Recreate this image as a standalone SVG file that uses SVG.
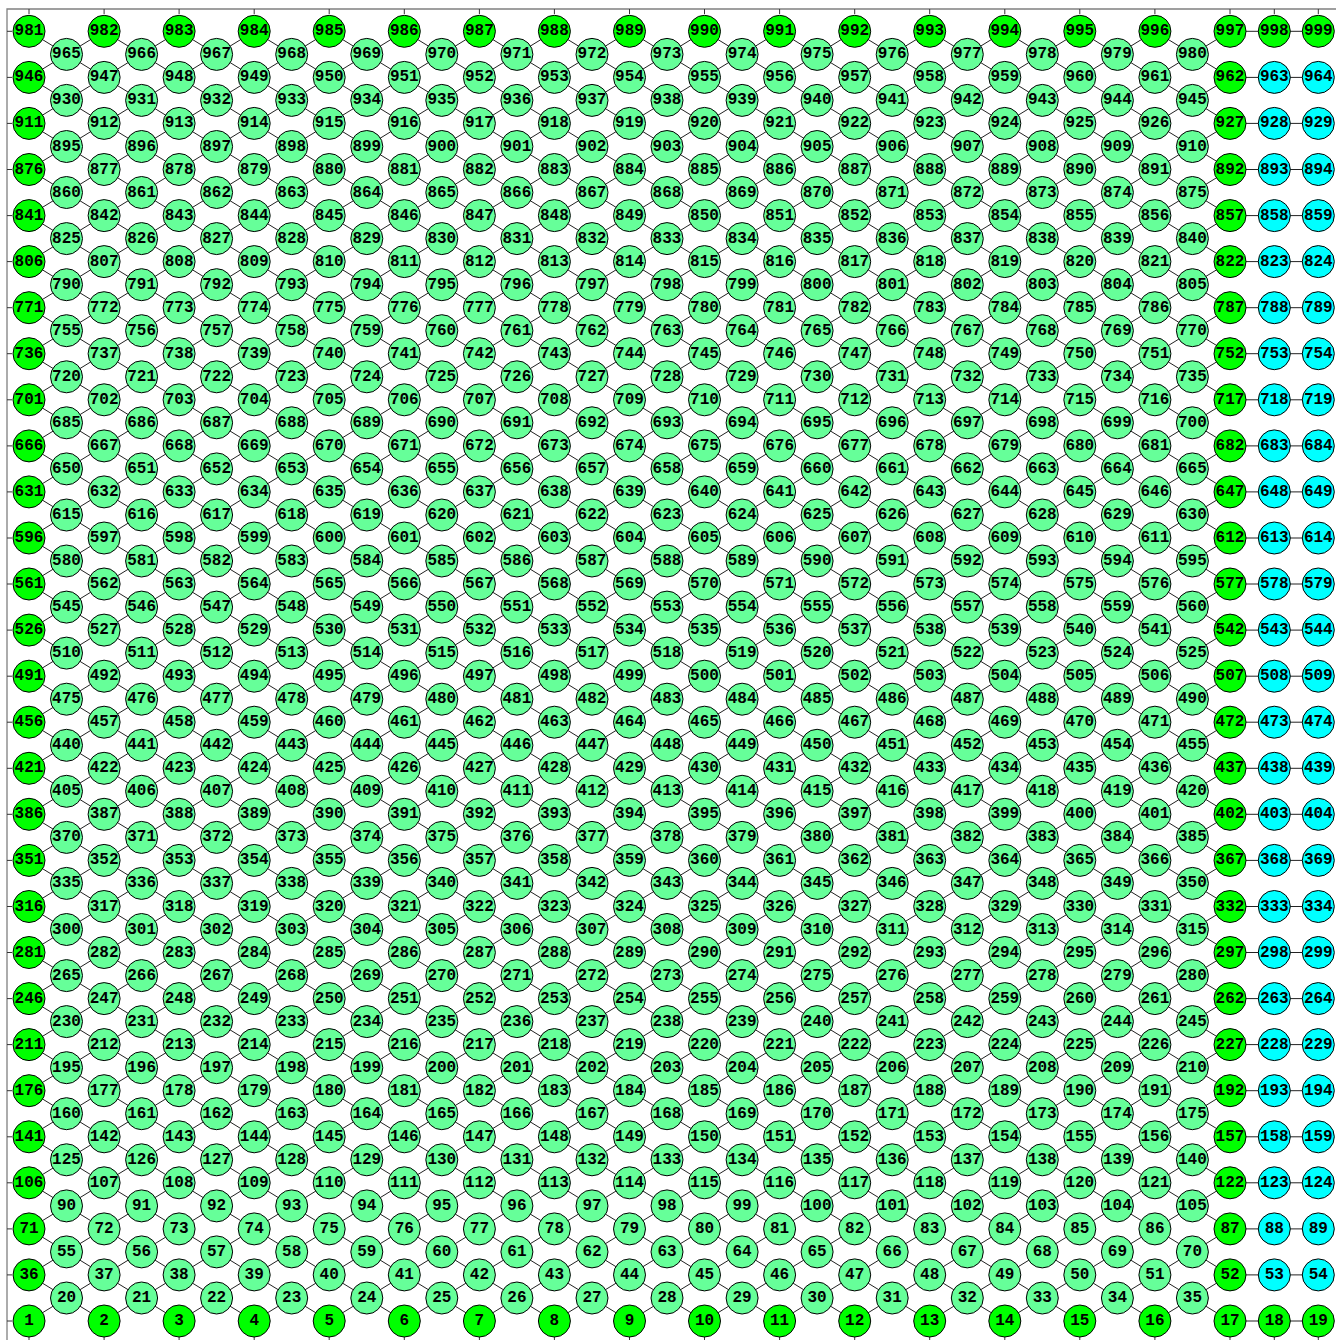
<svg xmlns="http://www.w3.org/2000/svg" width="1336" height="1340" viewBox="0 0 1336 1340">
<style>
circle{fill:#66ff99;stroke:#000;stroke-width:1}
.G circle{fill:#00ff00}
.C circle{fill:#00ffff}
text{font-family:"Liberation Mono","Courier New",monospace;font-weight:bold;font-size:16px;text-anchor:middle;dominant-baseline:central;fill:#000}
.e{fill:none;stroke:#222;stroke-width:1}
.f{fill:none;stroke:#808080;stroke-width:1.3}
.t{fill:none;stroke:#333;stroke-width:1}
</style>
<rect width="1336" height="1340" fill="#fff"/>
<g id="frame">
<path class="f" d="M7 1340V9H1336"/>
<path class="t" d="M29 9v5M104.1 9v5M179.1 9v5M254.2 9v5M329.2 9v5M404.3 9v5M479.4 9v5M554.4 9v5M629.5 9v5M704.5 9v5M779.6 9v5M854.7 9v5M929.7 9v5M1004.8 9v5M1079.8 9v5M1154.9 9v5M1230 9v5M1274.3 9v5M1318.3 9v5M29 1336v4M104.1 1336v4M179.1 1336v4M254.2 1336v4M329.2 1336v4M404.3 1336v4M479.4 1336v4M554.4 1336v4M629.5 1336v4M704.5 1336v4M779.6 1336v4M854.7 1336v4M929.7 1336v4M1004.8 1336v4M1079.8 1336v4M1154.9 1336v4M1230 1336v4M1274.3 1336v4M1318.3 1336v4M7 1321h5M7 1274.9h5M7 1228.9h5M7 1182.8h5M7 1136.8h5M7 1090.7h5M7 1044.6h5M7 998.6h5M7 952.5h5M7 906.5h5M7 860.4h5M7 814.3h5M7 768.3h5M7 722.2h5M7 676.2h5M7 630.1h5M7 584h5M7 538h5M7 491.9h5M7 445.9h5M7 399.8h5M7 353.7h5M7 307.7h5M7 261.6h5M7 215.6h5M7 169.5h5M7 123.4h5M7 77.4h5M7 31.3h5"/>
</g>
<g id="connectors">
<path class="e" d="M29 1321L1230 584M29 1274.9L1230 538M29 1228.9L1230 491.9M29 1182.8L1230 445.9M29 1136.8L1230 399.8M29 1090.7L1230 353.7M29 1044.6L1230 307.7M29 998.6L1230 261.6M29 952.5L1230 215.6M29 906.5L1230 169.5M29 860.4L1230 123.4M29 814.3L1230 77.4M29 768.3L1230 31.3M29 722.2L1154.9 31.3M29 676.2L1079.8 31.3M29 630.1L1004.8 31.3M29 584L929.7 31.3M29 538L854.7 31.3M29 491.9L779.6 31.3M29 445.9L704.5 31.3M29 399.8L629.5 31.3M29 353.7L554.4 31.3M29 307.7L479.4 31.3M29 261.6L404.3 31.3M29 215.6L329.2 31.3M29 169.5L254.2 31.3M29 123.4L179.1 31.3M29 77.4L104.1 31.3M104.1 1321L1230 630.1M179.1 1321L1230 676.2M254.2 1321L1230 722.2M329.2 1321L1230 768.3M404.3 1321L1230 814.3M479.4 1321L1230 860.4M554.4 1321L1230 906.5M629.5 1321L1230 952.5M704.5 1321L1230 998.6M779.6 1321L1230 1044.6M854.7 1321L1230 1090.7M929.7 1321L1230 1136.8M1004.8 1321L1230 1182.8M1079.8 1321L1230 1228.9M1154.9 1321L1230 1274.9"/>
<path class="e" d="M29 1274.9L104.1 1321M29 1228.9L179.1 1321M29 1182.8L254.2 1321M29 1136.8L329.2 1321M29 1090.7L404.3 1321M29 1044.6L479.4 1321M29 998.6L554.4 1321M29 952.5L629.5 1321M29 906.5L704.5 1321M29 860.4L779.6 1321M29 814.3L854.7 1321M29 768.3L929.7 1321M29 722.2L1004.8 1321M29 676.2L1079.8 1321M29 630.1L1154.9 1321M29 584L1230 1321M29 538L1230 1274.9M29 491.9L1230 1228.9M29 445.9L1230 1182.8M29 399.8L1230 1136.8M29 353.7L1230 1090.7M29 307.7L1230 1044.6M29 261.6L1230 998.6M29 215.6L1230 952.5M29 169.5L1230 906.5M29 123.4L1230 860.4M29 77.4L1230 814.3M29 31.3L1230 768.3M104.1 31.3L1230 722.2M179.1 31.3L1230 676.2M254.2 31.3L1230 630.1M329.2 31.3L1230 584M404.3 31.3L1230 538M479.4 31.3L1230 491.9M554.4 31.3L1230 445.9M629.5 31.3L1230 399.8M704.5 31.3L1230 353.7M779.6 31.3L1230 307.7M854.7 31.3L1230 261.6M929.7 31.3L1230 215.6M1004.8 31.3L1230 169.5M1079.8 31.3L1230 123.4M1154.9 31.3L1230 77.4"/>
<path class="e" d="M1230 1321H1318.3M1230 1274.9H1318.3M1230 1228.9H1318.3M1230 1182.8H1318.3M1230 1136.8H1318.3M1230 1090.7H1318.3M1230 1044.6H1318.3M1230 998.6H1318.3M1230 952.5H1318.3M1230 906.5H1318.3M1230 860.4H1318.3M1230 814.3H1318.3M1230 768.3H1318.3M1230 722.2H1318.3M1230 676.2H1318.3M1230 630.1H1318.3M1230 584H1318.3M1230 538H1318.3M1230 491.9H1318.3M1230 445.9H1318.3M1230 399.8H1318.3M1230 353.7H1318.3M1230 307.7H1318.3M1230 261.6H1318.3M1230 215.6H1318.3M1230 169.5H1318.3M1230 123.4H1318.3M1230 77.4H1318.3M1230 31.3H1318.3"/>
</g>
<g id="nodes">
<g transform="translate(0 1321)">
<g id="n1" class="G" transform="translate(29)"><circle r="16"/><text>1</text></g>
<g id="n2" class="G" transform="translate(104.1)"><circle r="16"/><text>2</text></g>
<g id="n3" class="G" transform="translate(179.1)"><circle r="16"/><text>3</text></g>
<g id="n4" class="G" transform="translate(254.2)"><circle r="16"/><text>4</text></g>
<g id="n5" class="G" transform="translate(329.2)"><circle r="16"/><text>5</text></g>
<g id="n6" class="G" transform="translate(404.3)"><circle r="16"/><text>6</text></g>
<g id="n7" class="G" transform="translate(479.4)"><circle r="16"/><text>7</text></g>
<g id="n8" class="G" transform="translate(554.4)"><circle r="16"/><text>8</text></g>
<g id="n9" class="G" transform="translate(629.5)"><circle r="16"/><text>9</text></g>
<g id="n10" class="G" transform="translate(704.5)"><circle r="16"/><text>10</text></g>
<g id="n11" class="G" transform="translate(779.6)"><circle r="16"/><text>11</text></g>
<g id="n12" class="G" transform="translate(854.7)"><circle r="16"/><text>12</text></g>
<g id="n13" class="G" transform="translate(929.7)"><circle r="16"/><text>13</text></g>
<g id="n14" class="G" transform="translate(1004.8)"><circle r="16"/><text>14</text></g>
<g id="n15" class="G" transform="translate(1079.8)"><circle r="16"/><text>15</text></g>
<g id="n16" class="G" transform="translate(1154.9)"><circle r="16"/><text>16</text></g>
<g id="n17" class="G" transform="translate(1230)"><circle r="16"/><text>17</text></g>
<g id="n18" class="G" transform="translate(1274.3)"><circle r="16"/><text>18</text></g>
<g id="n19" class="G" transform="translate(1318.3)"><circle r="16"/><text>19</text></g>
</g>
<g transform="translate(0 1298)">
<g id="n20" transform="translate(66.5)"><circle r="16"/><text>20</text></g>
<g id="n21" transform="translate(141.6)"><circle r="16"/><text>21</text></g>
<g id="n22" transform="translate(216.6)"><circle r="16"/><text>22</text></g>
<g id="n23" transform="translate(291.7)"><circle r="16"/><text>23</text></g>
<g id="n24" transform="translate(366.8)"><circle r="16"/><text>24</text></g>
<g id="n25" transform="translate(441.8)"><circle r="16"/><text>25</text></g>
<g id="n26" transform="translate(516.9)"><circle r="16"/><text>26</text></g>
<g id="n27" transform="translate(592)"><circle r="16"/><text>27</text></g>
<g id="n28" transform="translate(667)"><circle r="16"/><text>28</text></g>
<g id="n29" transform="translate(742.1)"><circle r="16"/><text>29</text></g>
<g id="n30" transform="translate(817.1)"><circle r="16"/><text>30</text></g>
<g id="n31" transform="translate(892.2)"><circle r="16"/><text>31</text></g>
<g id="n32" transform="translate(967.3)"><circle r="16"/><text>32</text></g>
<g id="n33" transform="translate(1042.3)"><circle r="16"/><text>33</text></g>
<g id="n34" transform="translate(1117.4)"><circle r="16"/><text>34</text></g>
<g id="n35" transform="translate(1192.4)"><circle r="16"/><text>35</text></g>
</g>
<g transform="translate(0 1274.9)">
<g id="n36" class="G" transform="translate(29)"><circle r="16"/><text>36</text></g>
<g id="n37" transform="translate(104.1)"><circle r="16"/><text>37</text></g>
<g id="n38" transform="translate(179.1)"><circle r="16"/><text>38</text></g>
<g id="n39" transform="translate(254.2)"><circle r="16"/><text>39</text></g>
<g id="n40" transform="translate(329.2)"><circle r="16"/><text>40</text></g>
<g id="n41" transform="translate(404.3)"><circle r="16"/><text>41</text></g>
<g id="n42" transform="translate(479.4)"><circle r="16"/><text>42</text></g>
<g id="n43" transform="translate(554.4)"><circle r="16"/><text>43</text></g>
<g id="n44" transform="translate(629.5)"><circle r="16"/><text>44</text></g>
<g id="n45" transform="translate(704.5)"><circle r="16"/><text>45</text></g>
<g id="n46" transform="translate(779.6)"><circle r="16"/><text>46</text></g>
<g id="n47" transform="translate(854.7)"><circle r="16"/><text>47</text></g>
<g id="n48" transform="translate(929.7)"><circle r="16"/><text>48</text></g>
<g id="n49" transform="translate(1004.8)"><circle r="16"/><text>49</text></g>
<g id="n50" transform="translate(1079.8)"><circle r="16"/><text>50</text></g>
<g id="n51" transform="translate(1154.9)"><circle r="16"/><text>51</text></g>
<g id="n52" class="G" transform="translate(1230)"><circle r="16"/><text>52</text></g>
<g id="n53" class="C" transform="translate(1274.3)"><circle r="16"/><text>53</text></g>
<g id="n54" class="C" transform="translate(1318.3)"><circle r="16"/><text>54</text></g>
</g>
<g transform="translate(0 1251.9)">
<g id="n55" transform="translate(66.5)"><circle r="16"/><text>55</text></g>
<g id="n56" transform="translate(141.6)"><circle r="16"/><text>56</text></g>
<g id="n57" transform="translate(216.6)"><circle r="16"/><text>57</text></g>
<g id="n58" transform="translate(291.7)"><circle r="16"/><text>58</text></g>
<g id="n59" transform="translate(366.8)"><circle r="16"/><text>59</text></g>
<g id="n60" transform="translate(441.8)"><circle r="16"/><text>60</text></g>
<g id="n61" transform="translate(516.9)"><circle r="16"/><text>61</text></g>
<g id="n62" transform="translate(592)"><circle r="16"/><text>62</text></g>
<g id="n63" transform="translate(667)"><circle r="16"/><text>63</text></g>
<g id="n64" transform="translate(742.1)"><circle r="16"/><text>64</text></g>
<g id="n65" transform="translate(817.1)"><circle r="16"/><text>65</text></g>
<g id="n66" transform="translate(892.2)"><circle r="16"/><text>66</text></g>
<g id="n67" transform="translate(967.3)"><circle r="16"/><text>67</text></g>
<g id="n68" transform="translate(1042.3)"><circle r="16"/><text>68</text></g>
<g id="n69" transform="translate(1117.4)"><circle r="16"/><text>69</text></g>
<g id="n70" transform="translate(1192.4)"><circle r="16"/><text>70</text></g>
</g>
<g transform="translate(0 1228.9)">
<g id="n71" class="G" transform="translate(29)"><circle r="16"/><text>71</text></g>
<g id="n72" transform="translate(104.1)"><circle r="16"/><text>72</text></g>
<g id="n73" transform="translate(179.1)"><circle r="16"/><text>73</text></g>
<g id="n74" transform="translate(254.2)"><circle r="16"/><text>74</text></g>
<g id="n75" transform="translate(329.2)"><circle r="16"/><text>75</text></g>
<g id="n76" transform="translate(404.3)"><circle r="16"/><text>76</text></g>
<g id="n77" transform="translate(479.4)"><circle r="16"/><text>77</text></g>
<g id="n78" transform="translate(554.4)"><circle r="16"/><text>78</text></g>
<g id="n79" transform="translate(629.5)"><circle r="16"/><text>79</text></g>
<g id="n80" transform="translate(704.5)"><circle r="16"/><text>80</text></g>
<g id="n81" transform="translate(779.6)"><circle r="16"/><text>81</text></g>
<g id="n82" transform="translate(854.7)"><circle r="16"/><text>82</text></g>
<g id="n83" transform="translate(929.7)"><circle r="16"/><text>83</text></g>
<g id="n84" transform="translate(1004.8)"><circle r="16"/><text>84</text></g>
<g id="n85" transform="translate(1079.8)"><circle r="16"/><text>85</text></g>
<g id="n86" transform="translate(1154.9)"><circle r="16"/><text>86</text></g>
<g id="n87" class="G" transform="translate(1230)"><circle r="16"/><text>87</text></g>
<g id="n88" class="C" transform="translate(1274.3)"><circle r="16"/><text>88</text></g>
<g id="n89" class="C" transform="translate(1318.3)"><circle r="16"/><text>89</text></g>
</g>
<g transform="translate(0 1205.9)">
<g id="n90" transform="translate(66.5)"><circle r="16"/><text>90</text></g>
<g id="n91" transform="translate(141.6)"><circle r="16"/><text>91</text></g>
<g id="n92" transform="translate(216.6)"><circle r="16"/><text>92</text></g>
<g id="n93" transform="translate(291.7)"><circle r="16"/><text>93</text></g>
<g id="n94" transform="translate(366.8)"><circle r="16"/><text>94</text></g>
<g id="n95" transform="translate(441.8)"><circle r="16"/><text>95</text></g>
<g id="n96" transform="translate(516.9)"><circle r="16"/><text>96</text></g>
<g id="n97" transform="translate(592)"><circle r="16"/><text>97</text></g>
<g id="n98" transform="translate(667)"><circle r="16"/><text>98</text></g>
<g id="n99" transform="translate(742.1)"><circle r="16"/><text>99</text></g>
<g id="n100" transform="translate(817.1)"><circle r="16"/><text>100</text></g>
<g id="n101" transform="translate(892.2)"><circle r="16"/><text>101</text></g>
<g id="n102" transform="translate(967.3)"><circle r="16"/><text>102</text></g>
<g id="n103" transform="translate(1042.3)"><circle r="16"/><text>103</text></g>
<g id="n104" transform="translate(1117.4)"><circle r="16"/><text>104</text></g>
<g id="n105" transform="translate(1192.4)"><circle r="16"/><text>105</text></g>
</g>
<g transform="translate(0 1182.8)">
<g id="n106" class="G" transform="translate(29)"><circle r="16"/><text>106</text></g>
<g id="n107" transform="translate(104.1)"><circle r="16"/><text>107</text></g>
<g id="n108" transform="translate(179.1)"><circle r="16"/><text>108</text></g>
<g id="n109" transform="translate(254.2)"><circle r="16"/><text>109</text></g>
<g id="n110" transform="translate(329.2)"><circle r="16"/><text>110</text></g>
<g id="n111" transform="translate(404.3)"><circle r="16"/><text>111</text></g>
<g id="n112" transform="translate(479.4)"><circle r="16"/><text>112</text></g>
<g id="n113" transform="translate(554.4)"><circle r="16"/><text>113</text></g>
<g id="n114" transform="translate(629.5)"><circle r="16"/><text>114</text></g>
<g id="n115" transform="translate(704.5)"><circle r="16"/><text>115</text></g>
<g id="n116" transform="translate(779.6)"><circle r="16"/><text>116</text></g>
<g id="n117" transform="translate(854.7)"><circle r="16"/><text>117</text></g>
<g id="n118" transform="translate(929.7)"><circle r="16"/><text>118</text></g>
<g id="n119" transform="translate(1004.8)"><circle r="16"/><text>119</text></g>
<g id="n120" transform="translate(1079.8)"><circle r="16"/><text>120</text></g>
<g id="n121" transform="translate(1154.9)"><circle r="16"/><text>121</text></g>
<g id="n122" class="G" transform="translate(1230)"><circle r="16"/><text>122</text></g>
<g id="n123" class="C" transform="translate(1274.3)"><circle r="16"/><text>123</text></g>
<g id="n124" class="C" transform="translate(1318.3)"><circle r="16"/><text>124</text></g>
</g>
<g transform="translate(0 1159.8)">
<g id="n125" transform="translate(66.5)"><circle r="16"/><text>125</text></g>
<g id="n126" transform="translate(141.6)"><circle r="16"/><text>126</text></g>
<g id="n127" transform="translate(216.6)"><circle r="16"/><text>127</text></g>
<g id="n128" transform="translate(291.7)"><circle r="16"/><text>128</text></g>
<g id="n129" transform="translate(366.8)"><circle r="16"/><text>129</text></g>
<g id="n130" transform="translate(441.8)"><circle r="16"/><text>130</text></g>
<g id="n131" transform="translate(516.9)"><circle r="16"/><text>131</text></g>
<g id="n132" transform="translate(592)"><circle r="16"/><text>132</text></g>
<g id="n133" transform="translate(667)"><circle r="16"/><text>133</text></g>
<g id="n134" transform="translate(742.1)"><circle r="16"/><text>134</text></g>
<g id="n135" transform="translate(817.1)"><circle r="16"/><text>135</text></g>
<g id="n136" transform="translate(892.2)"><circle r="16"/><text>136</text></g>
<g id="n137" transform="translate(967.3)"><circle r="16"/><text>137</text></g>
<g id="n138" transform="translate(1042.3)"><circle r="16"/><text>138</text></g>
<g id="n139" transform="translate(1117.4)"><circle r="16"/><text>139</text></g>
<g id="n140" transform="translate(1192.4)"><circle r="16"/><text>140</text></g>
</g>
<g transform="translate(0 1136.8)">
<g id="n141" class="G" transform="translate(29)"><circle r="16"/><text>141</text></g>
<g id="n142" transform="translate(104.1)"><circle r="16"/><text>142</text></g>
<g id="n143" transform="translate(179.1)"><circle r="16"/><text>143</text></g>
<g id="n144" transform="translate(254.2)"><circle r="16"/><text>144</text></g>
<g id="n145" transform="translate(329.2)"><circle r="16"/><text>145</text></g>
<g id="n146" transform="translate(404.3)"><circle r="16"/><text>146</text></g>
<g id="n147" transform="translate(479.4)"><circle r="16"/><text>147</text></g>
<g id="n148" transform="translate(554.4)"><circle r="16"/><text>148</text></g>
<g id="n149" transform="translate(629.5)"><circle r="16"/><text>149</text></g>
<g id="n150" transform="translate(704.5)"><circle r="16"/><text>150</text></g>
<g id="n151" transform="translate(779.6)"><circle r="16"/><text>151</text></g>
<g id="n152" transform="translate(854.7)"><circle r="16"/><text>152</text></g>
<g id="n153" transform="translate(929.7)"><circle r="16"/><text>153</text></g>
<g id="n154" transform="translate(1004.8)"><circle r="16"/><text>154</text></g>
<g id="n155" transform="translate(1079.8)"><circle r="16"/><text>155</text></g>
<g id="n156" transform="translate(1154.9)"><circle r="16"/><text>156</text></g>
<g id="n157" class="G" transform="translate(1230)"><circle r="16"/><text>157</text></g>
<g id="n158" class="C" transform="translate(1274.3)"><circle r="16"/><text>158</text></g>
<g id="n159" class="C" transform="translate(1318.3)"><circle r="16"/><text>159</text></g>
</g>
<g transform="translate(0 1113.7)">
<g id="n160" transform="translate(66.5)"><circle r="16"/><text>160</text></g>
<g id="n161" transform="translate(141.6)"><circle r="16"/><text>161</text></g>
<g id="n162" transform="translate(216.6)"><circle r="16"/><text>162</text></g>
<g id="n163" transform="translate(291.7)"><circle r="16"/><text>163</text></g>
<g id="n164" transform="translate(366.8)"><circle r="16"/><text>164</text></g>
<g id="n165" transform="translate(441.8)"><circle r="16"/><text>165</text></g>
<g id="n166" transform="translate(516.9)"><circle r="16"/><text>166</text></g>
<g id="n167" transform="translate(592)"><circle r="16"/><text>167</text></g>
<g id="n168" transform="translate(667)"><circle r="16"/><text>168</text></g>
<g id="n169" transform="translate(742.1)"><circle r="16"/><text>169</text></g>
<g id="n170" transform="translate(817.1)"><circle r="16"/><text>170</text></g>
<g id="n171" transform="translate(892.2)"><circle r="16"/><text>171</text></g>
<g id="n172" transform="translate(967.3)"><circle r="16"/><text>172</text></g>
<g id="n173" transform="translate(1042.3)"><circle r="16"/><text>173</text></g>
<g id="n174" transform="translate(1117.4)"><circle r="16"/><text>174</text></g>
<g id="n175" transform="translate(1192.4)"><circle r="16"/><text>175</text></g>
</g>
<g transform="translate(0 1090.7)">
<g id="n176" class="G" transform="translate(29)"><circle r="16"/><text>176</text></g>
<g id="n177" transform="translate(104.1)"><circle r="16"/><text>177</text></g>
<g id="n178" transform="translate(179.1)"><circle r="16"/><text>178</text></g>
<g id="n179" transform="translate(254.2)"><circle r="16"/><text>179</text></g>
<g id="n180" transform="translate(329.2)"><circle r="16"/><text>180</text></g>
<g id="n181" transform="translate(404.3)"><circle r="16"/><text>181</text></g>
<g id="n182" transform="translate(479.4)"><circle r="16"/><text>182</text></g>
<g id="n183" transform="translate(554.4)"><circle r="16"/><text>183</text></g>
<g id="n184" transform="translate(629.5)"><circle r="16"/><text>184</text></g>
<g id="n185" transform="translate(704.5)"><circle r="16"/><text>185</text></g>
<g id="n186" transform="translate(779.6)"><circle r="16"/><text>186</text></g>
<g id="n187" transform="translate(854.7)"><circle r="16"/><text>187</text></g>
<g id="n188" transform="translate(929.7)"><circle r="16"/><text>188</text></g>
<g id="n189" transform="translate(1004.8)"><circle r="16"/><text>189</text></g>
<g id="n190" transform="translate(1079.8)"><circle r="16"/><text>190</text></g>
<g id="n191" transform="translate(1154.9)"><circle r="16"/><text>191</text></g>
<g id="n192" class="G" transform="translate(1230)"><circle r="16"/><text>192</text></g>
<g id="n193" class="C" transform="translate(1274.3)"><circle r="16"/><text>193</text></g>
<g id="n194" class="C" transform="translate(1318.3)"><circle r="16"/><text>194</text></g>
</g>
<g transform="translate(0 1067.7)">
<g id="n195" transform="translate(66.5)"><circle r="16"/><text>195</text></g>
<g id="n196" transform="translate(141.6)"><circle r="16"/><text>196</text></g>
<g id="n197" transform="translate(216.6)"><circle r="16"/><text>197</text></g>
<g id="n198" transform="translate(291.7)"><circle r="16"/><text>198</text></g>
<g id="n199" transform="translate(366.8)"><circle r="16"/><text>199</text></g>
<g id="n200" transform="translate(441.8)"><circle r="16"/><text>200</text></g>
<g id="n201" transform="translate(516.9)"><circle r="16"/><text>201</text></g>
<g id="n202" transform="translate(592)"><circle r="16"/><text>202</text></g>
<g id="n203" transform="translate(667)"><circle r="16"/><text>203</text></g>
<g id="n204" transform="translate(742.1)"><circle r="16"/><text>204</text></g>
<g id="n205" transform="translate(817.1)"><circle r="16"/><text>205</text></g>
<g id="n206" transform="translate(892.2)"><circle r="16"/><text>206</text></g>
<g id="n207" transform="translate(967.3)"><circle r="16"/><text>207</text></g>
<g id="n208" transform="translate(1042.3)"><circle r="16"/><text>208</text></g>
<g id="n209" transform="translate(1117.4)"><circle r="16"/><text>209</text></g>
<g id="n210" transform="translate(1192.4)"><circle r="16"/><text>210</text></g>
</g>
<g transform="translate(0 1044.6)">
<g id="n211" class="G" transform="translate(29)"><circle r="16"/><text>211</text></g>
<g id="n212" transform="translate(104.1)"><circle r="16"/><text>212</text></g>
<g id="n213" transform="translate(179.1)"><circle r="16"/><text>213</text></g>
<g id="n214" transform="translate(254.2)"><circle r="16"/><text>214</text></g>
<g id="n215" transform="translate(329.2)"><circle r="16"/><text>215</text></g>
<g id="n216" transform="translate(404.3)"><circle r="16"/><text>216</text></g>
<g id="n217" transform="translate(479.4)"><circle r="16"/><text>217</text></g>
<g id="n218" transform="translate(554.4)"><circle r="16"/><text>218</text></g>
<g id="n219" transform="translate(629.5)"><circle r="16"/><text>219</text></g>
<g id="n220" transform="translate(704.5)"><circle r="16"/><text>220</text></g>
<g id="n221" transform="translate(779.6)"><circle r="16"/><text>221</text></g>
<g id="n222" transform="translate(854.7)"><circle r="16"/><text>222</text></g>
<g id="n223" transform="translate(929.7)"><circle r="16"/><text>223</text></g>
<g id="n224" transform="translate(1004.8)"><circle r="16"/><text>224</text></g>
<g id="n225" transform="translate(1079.8)"><circle r="16"/><text>225</text></g>
<g id="n226" transform="translate(1154.9)"><circle r="16"/><text>226</text></g>
<g id="n227" class="G" transform="translate(1230)"><circle r="16"/><text>227</text></g>
<g id="n228" class="C" transform="translate(1274.3)"><circle r="16"/><text>228</text></g>
<g id="n229" class="C" transform="translate(1318.3)"><circle r="16"/><text>229</text></g>
</g>
<g transform="translate(0 1021.6)">
<g id="n230" transform="translate(66.5)"><circle r="16"/><text>230</text></g>
<g id="n231" transform="translate(141.6)"><circle r="16"/><text>231</text></g>
<g id="n232" transform="translate(216.6)"><circle r="16"/><text>232</text></g>
<g id="n233" transform="translate(291.7)"><circle r="16"/><text>233</text></g>
<g id="n234" transform="translate(366.8)"><circle r="16"/><text>234</text></g>
<g id="n235" transform="translate(441.8)"><circle r="16"/><text>235</text></g>
<g id="n236" transform="translate(516.9)"><circle r="16"/><text>236</text></g>
<g id="n237" transform="translate(592)"><circle r="16"/><text>237</text></g>
<g id="n238" transform="translate(667)"><circle r="16"/><text>238</text></g>
<g id="n239" transform="translate(742.1)"><circle r="16"/><text>239</text></g>
<g id="n240" transform="translate(817.1)"><circle r="16"/><text>240</text></g>
<g id="n241" transform="translate(892.2)"><circle r="16"/><text>241</text></g>
<g id="n242" transform="translate(967.3)"><circle r="16"/><text>242</text></g>
<g id="n243" transform="translate(1042.3)"><circle r="16"/><text>243</text></g>
<g id="n244" transform="translate(1117.4)"><circle r="16"/><text>244</text></g>
<g id="n245" transform="translate(1192.4)"><circle r="16"/><text>245</text></g>
</g>
<g transform="translate(0 998.6)">
<g id="n246" class="G" transform="translate(29)"><circle r="16"/><text>246</text></g>
<g id="n247" transform="translate(104.1)"><circle r="16"/><text>247</text></g>
<g id="n248" transform="translate(179.1)"><circle r="16"/><text>248</text></g>
<g id="n249" transform="translate(254.2)"><circle r="16"/><text>249</text></g>
<g id="n250" transform="translate(329.2)"><circle r="16"/><text>250</text></g>
<g id="n251" transform="translate(404.3)"><circle r="16"/><text>251</text></g>
<g id="n252" transform="translate(479.4)"><circle r="16"/><text>252</text></g>
<g id="n253" transform="translate(554.4)"><circle r="16"/><text>253</text></g>
<g id="n254" transform="translate(629.5)"><circle r="16"/><text>254</text></g>
<g id="n255" transform="translate(704.5)"><circle r="16"/><text>255</text></g>
<g id="n256" transform="translate(779.6)"><circle r="16"/><text>256</text></g>
<g id="n257" transform="translate(854.7)"><circle r="16"/><text>257</text></g>
<g id="n258" transform="translate(929.7)"><circle r="16"/><text>258</text></g>
<g id="n259" transform="translate(1004.8)"><circle r="16"/><text>259</text></g>
<g id="n260" transform="translate(1079.8)"><circle r="16"/><text>260</text></g>
<g id="n261" transform="translate(1154.9)"><circle r="16"/><text>261</text></g>
<g id="n262" class="G" transform="translate(1230)"><circle r="16"/><text>262</text></g>
<g id="n263" class="C" transform="translate(1274.3)"><circle r="16"/><text>263</text></g>
<g id="n264" class="C" transform="translate(1318.3)"><circle r="16"/><text>264</text></g>
</g>
<g transform="translate(0 975.6)">
<g id="n265" transform="translate(66.5)"><circle r="16"/><text>265</text></g>
<g id="n266" transform="translate(141.6)"><circle r="16"/><text>266</text></g>
<g id="n267" transform="translate(216.6)"><circle r="16"/><text>267</text></g>
<g id="n268" transform="translate(291.7)"><circle r="16"/><text>268</text></g>
<g id="n269" transform="translate(366.8)"><circle r="16"/><text>269</text></g>
<g id="n270" transform="translate(441.8)"><circle r="16"/><text>270</text></g>
<g id="n271" transform="translate(516.9)"><circle r="16"/><text>271</text></g>
<g id="n272" transform="translate(592)"><circle r="16"/><text>272</text></g>
<g id="n273" transform="translate(667)"><circle r="16"/><text>273</text></g>
<g id="n274" transform="translate(742.1)"><circle r="16"/><text>274</text></g>
<g id="n275" transform="translate(817.1)"><circle r="16"/><text>275</text></g>
<g id="n276" transform="translate(892.2)"><circle r="16"/><text>276</text></g>
<g id="n277" transform="translate(967.3)"><circle r="16"/><text>277</text></g>
<g id="n278" transform="translate(1042.3)"><circle r="16"/><text>278</text></g>
<g id="n279" transform="translate(1117.4)"><circle r="16"/><text>279</text></g>
<g id="n280" transform="translate(1192.4)"><circle r="16"/><text>280</text></g>
</g>
<g transform="translate(0 952.5)">
<g id="n281" class="G" transform="translate(29)"><circle r="16"/><text>281</text></g>
<g id="n282" transform="translate(104.1)"><circle r="16"/><text>282</text></g>
<g id="n283" transform="translate(179.1)"><circle r="16"/><text>283</text></g>
<g id="n284" transform="translate(254.2)"><circle r="16"/><text>284</text></g>
<g id="n285" transform="translate(329.2)"><circle r="16"/><text>285</text></g>
<g id="n286" transform="translate(404.3)"><circle r="16"/><text>286</text></g>
<g id="n287" transform="translate(479.4)"><circle r="16"/><text>287</text></g>
<g id="n288" transform="translate(554.4)"><circle r="16"/><text>288</text></g>
<g id="n289" transform="translate(629.5)"><circle r="16"/><text>289</text></g>
<g id="n290" transform="translate(704.5)"><circle r="16"/><text>290</text></g>
<g id="n291" transform="translate(779.6)"><circle r="16"/><text>291</text></g>
<g id="n292" transform="translate(854.7)"><circle r="16"/><text>292</text></g>
<g id="n293" transform="translate(929.7)"><circle r="16"/><text>293</text></g>
<g id="n294" transform="translate(1004.8)"><circle r="16"/><text>294</text></g>
<g id="n295" transform="translate(1079.8)"><circle r="16"/><text>295</text></g>
<g id="n296" transform="translate(1154.9)"><circle r="16"/><text>296</text></g>
<g id="n297" class="G" transform="translate(1230)"><circle r="16"/><text>297</text></g>
<g id="n298" class="C" transform="translate(1274.3)"><circle r="16"/><text>298</text></g>
<g id="n299" class="C" transform="translate(1318.3)"><circle r="16"/><text>299</text></g>
</g>
<g transform="translate(0 929.5)">
<g id="n300" transform="translate(66.5)"><circle r="16"/><text>300</text></g>
<g id="n301" transform="translate(141.6)"><circle r="16"/><text>301</text></g>
<g id="n302" transform="translate(216.6)"><circle r="16"/><text>302</text></g>
<g id="n303" transform="translate(291.7)"><circle r="16"/><text>303</text></g>
<g id="n304" transform="translate(366.8)"><circle r="16"/><text>304</text></g>
<g id="n305" transform="translate(441.8)"><circle r="16"/><text>305</text></g>
<g id="n306" transform="translate(516.9)"><circle r="16"/><text>306</text></g>
<g id="n307" transform="translate(592)"><circle r="16"/><text>307</text></g>
<g id="n308" transform="translate(667)"><circle r="16"/><text>308</text></g>
<g id="n309" transform="translate(742.1)"><circle r="16"/><text>309</text></g>
<g id="n310" transform="translate(817.1)"><circle r="16"/><text>310</text></g>
<g id="n311" transform="translate(892.2)"><circle r="16"/><text>311</text></g>
<g id="n312" transform="translate(967.3)"><circle r="16"/><text>312</text></g>
<g id="n313" transform="translate(1042.3)"><circle r="16"/><text>313</text></g>
<g id="n314" transform="translate(1117.4)"><circle r="16"/><text>314</text></g>
<g id="n315" transform="translate(1192.4)"><circle r="16"/><text>315</text></g>
</g>
<g transform="translate(0 906.5)">
<g id="n316" class="G" transform="translate(29)"><circle r="16"/><text>316</text></g>
<g id="n317" transform="translate(104.1)"><circle r="16"/><text>317</text></g>
<g id="n318" transform="translate(179.1)"><circle r="16"/><text>318</text></g>
<g id="n319" transform="translate(254.2)"><circle r="16"/><text>319</text></g>
<g id="n320" transform="translate(329.2)"><circle r="16"/><text>320</text></g>
<g id="n321" transform="translate(404.3)"><circle r="16"/><text>321</text></g>
<g id="n322" transform="translate(479.4)"><circle r="16"/><text>322</text></g>
<g id="n323" transform="translate(554.4)"><circle r="16"/><text>323</text></g>
<g id="n324" transform="translate(629.5)"><circle r="16"/><text>324</text></g>
<g id="n325" transform="translate(704.5)"><circle r="16"/><text>325</text></g>
<g id="n326" transform="translate(779.6)"><circle r="16"/><text>326</text></g>
<g id="n327" transform="translate(854.7)"><circle r="16"/><text>327</text></g>
<g id="n328" transform="translate(929.7)"><circle r="16"/><text>328</text></g>
<g id="n329" transform="translate(1004.8)"><circle r="16"/><text>329</text></g>
<g id="n330" transform="translate(1079.8)"><circle r="16"/><text>330</text></g>
<g id="n331" transform="translate(1154.9)"><circle r="16"/><text>331</text></g>
<g id="n332" class="G" transform="translate(1230)"><circle r="16"/><text>332</text></g>
<g id="n333" class="C" transform="translate(1274.3)"><circle r="16"/><text>333</text></g>
<g id="n334" class="C" transform="translate(1318.3)"><circle r="16"/><text>334</text></g>
</g>
<g transform="translate(0 883.4)">
<g id="n335" transform="translate(66.5)"><circle r="16"/><text>335</text></g>
<g id="n336" transform="translate(141.6)"><circle r="16"/><text>336</text></g>
<g id="n337" transform="translate(216.6)"><circle r="16"/><text>337</text></g>
<g id="n338" transform="translate(291.7)"><circle r="16"/><text>338</text></g>
<g id="n339" transform="translate(366.8)"><circle r="16"/><text>339</text></g>
<g id="n340" transform="translate(441.8)"><circle r="16"/><text>340</text></g>
<g id="n341" transform="translate(516.9)"><circle r="16"/><text>341</text></g>
<g id="n342" transform="translate(592)"><circle r="16"/><text>342</text></g>
<g id="n343" transform="translate(667)"><circle r="16"/><text>343</text></g>
<g id="n344" transform="translate(742.1)"><circle r="16"/><text>344</text></g>
<g id="n345" transform="translate(817.1)"><circle r="16"/><text>345</text></g>
<g id="n346" transform="translate(892.2)"><circle r="16"/><text>346</text></g>
<g id="n347" transform="translate(967.3)"><circle r="16"/><text>347</text></g>
<g id="n348" transform="translate(1042.3)"><circle r="16"/><text>348</text></g>
<g id="n349" transform="translate(1117.4)"><circle r="16"/><text>349</text></g>
<g id="n350" transform="translate(1192.4)"><circle r="16"/><text>350</text></g>
</g>
<g transform="translate(0 860.4)">
<g id="n351" class="G" transform="translate(29)"><circle r="16"/><text>351</text></g>
<g id="n352" transform="translate(104.1)"><circle r="16"/><text>352</text></g>
<g id="n353" transform="translate(179.1)"><circle r="16"/><text>353</text></g>
<g id="n354" transform="translate(254.2)"><circle r="16"/><text>354</text></g>
<g id="n355" transform="translate(329.2)"><circle r="16"/><text>355</text></g>
<g id="n356" transform="translate(404.3)"><circle r="16"/><text>356</text></g>
<g id="n357" transform="translate(479.4)"><circle r="16"/><text>357</text></g>
<g id="n358" transform="translate(554.4)"><circle r="16"/><text>358</text></g>
<g id="n359" transform="translate(629.5)"><circle r="16"/><text>359</text></g>
<g id="n360" transform="translate(704.5)"><circle r="16"/><text>360</text></g>
<g id="n361" transform="translate(779.6)"><circle r="16"/><text>361</text></g>
<g id="n362" transform="translate(854.7)"><circle r="16"/><text>362</text></g>
<g id="n363" transform="translate(929.7)"><circle r="16"/><text>363</text></g>
<g id="n364" transform="translate(1004.8)"><circle r="16"/><text>364</text></g>
<g id="n365" transform="translate(1079.8)"><circle r="16"/><text>365</text></g>
<g id="n366" transform="translate(1154.9)"><circle r="16"/><text>366</text></g>
<g id="n367" class="G" transform="translate(1230)"><circle r="16"/><text>367</text></g>
<g id="n368" class="C" transform="translate(1274.3)"><circle r="16"/><text>368</text></g>
<g id="n369" class="C" transform="translate(1318.3)"><circle r="16"/><text>369</text></g>
</g>
<g transform="translate(0 837.4)">
<g id="n370" transform="translate(66.5)"><circle r="16"/><text>370</text></g>
<g id="n371" transform="translate(141.6)"><circle r="16"/><text>371</text></g>
<g id="n372" transform="translate(216.6)"><circle r="16"/><text>372</text></g>
<g id="n373" transform="translate(291.7)"><circle r="16"/><text>373</text></g>
<g id="n374" transform="translate(366.8)"><circle r="16"/><text>374</text></g>
<g id="n375" transform="translate(441.8)"><circle r="16"/><text>375</text></g>
<g id="n376" transform="translate(516.9)"><circle r="16"/><text>376</text></g>
<g id="n377" transform="translate(592)"><circle r="16"/><text>377</text></g>
<g id="n378" transform="translate(667)"><circle r="16"/><text>378</text></g>
<g id="n379" transform="translate(742.1)"><circle r="16"/><text>379</text></g>
<g id="n380" transform="translate(817.1)"><circle r="16"/><text>380</text></g>
<g id="n381" transform="translate(892.2)"><circle r="16"/><text>381</text></g>
<g id="n382" transform="translate(967.3)"><circle r="16"/><text>382</text></g>
<g id="n383" transform="translate(1042.3)"><circle r="16"/><text>383</text></g>
<g id="n384" transform="translate(1117.4)"><circle r="16"/><text>384</text></g>
<g id="n385" transform="translate(1192.4)"><circle r="16"/><text>385</text></g>
</g>
<g transform="translate(0 814.3)">
<g id="n386" class="G" transform="translate(29)"><circle r="16"/><text>386</text></g>
<g id="n387" transform="translate(104.1)"><circle r="16"/><text>387</text></g>
<g id="n388" transform="translate(179.1)"><circle r="16"/><text>388</text></g>
<g id="n389" transform="translate(254.2)"><circle r="16"/><text>389</text></g>
<g id="n390" transform="translate(329.2)"><circle r="16"/><text>390</text></g>
<g id="n391" transform="translate(404.3)"><circle r="16"/><text>391</text></g>
<g id="n392" transform="translate(479.4)"><circle r="16"/><text>392</text></g>
<g id="n393" transform="translate(554.4)"><circle r="16"/><text>393</text></g>
<g id="n394" transform="translate(629.5)"><circle r="16"/><text>394</text></g>
<g id="n395" transform="translate(704.5)"><circle r="16"/><text>395</text></g>
<g id="n396" transform="translate(779.6)"><circle r="16"/><text>396</text></g>
<g id="n397" transform="translate(854.7)"><circle r="16"/><text>397</text></g>
<g id="n398" transform="translate(929.7)"><circle r="16"/><text>398</text></g>
<g id="n399" transform="translate(1004.8)"><circle r="16"/><text>399</text></g>
<g id="n400" transform="translate(1079.8)"><circle r="16"/><text>400</text></g>
<g id="n401" transform="translate(1154.9)"><circle r="16"/><text>401</text></g>
<g id="n402" class="G" transform="translate(1230)"><circle r="16"/><text>402</text></g>
<g id="n403" class="C" transform="translate(1274.3)"><circle r="16"/><text>403</text></g>
<g id="n404" class="C" transform="translate(1318.3)"><circle r="16"/><text>404</text></g>
</g>
<g transform="translate(0 791.3)">
<g id="n405" transform="translate(66.5)"><circle r="16"/><text>405</text></g>
<g id="n406" transform="translate(141.6)"><circle r="16"/><text>406</text></g>
<g id="n407" transform="translate(216.6)"><circle r="16"/><text>407</text></g>
<g id="n408" transform="translate(291.7)"><circle r="16"/><text>408</text></g>
<g id="n409" transform="translate(366.8)"><circle r="16"/><text>409</text></g>
<g id="n410" transform="translate(441.8)"><circle r="16"/><text>410</text></g>
<g id="n411" transform="translate(516.9)"><circle r="16"/><text>411</text></g>
<g id="n412" transform="translate(592)"><circle r="16"/><text>412</text></g>
<g id="n413" transform="translate(667)"><circle r="16"/><text>413</text></g>
<g id="n414" transform="translate(742.1)"><circle r="16"/><text>414</text></g>
<g id="n415" transform="translate(817.1)"><circle r="16"/><text>415</text></g>
<g id="n416" transform="translate(892.2)"><circle r="16"/><text>416</text></g>
<g id="n417" transform="translate(967.3)"><circle r="16"/><text>417</text></g>
<g id="n418" transform="translate(1042.3)"><circle r="16"/><text>418</text></g>
<g id="n419" transform="translate(1117.4)"><circle r="16"/><text>419</text></g>
<g id="n420" transform="translate(1192.4)"><circle r="16"/><text>420</text></g>
</g>
<g transform="translate(0 768.3)">
<g id="n421" class="G" transform="translate(29)"><circle r="16"/><text>421</text></g>
<g id="n422" transform="translate(104.1)"><circle r="16"/><text>422</text></g>
<g id="n423" transform="translate(179.1)"><circle r="16"/><text>423</text></g>
<g id="n424" transform="translate(254.2)"><circle r="16"/><text>424</text></g>
<g id="n425" transform="translate(329.2)"><circle r="16"/><text>425</text></g>
<g id="n426" transform="translate(404.3)"><circle r="16"/><text>426</text></g>
<g id="n427" transform="translate(479.4)"><circle r="16"/><text>427</text></g>
<g id="n428" transform="translate(554.4)"><circle r="16"/><text>428</text></g>
<g id="n429" transform="translate(629.5)"><circle r="16"/><text>429</text></g>
<g id="n430" transform="translate(704.5)"><circle r="16"/><text>430</text></g>
<g id="n431" transform="translate(779.6)"><circle r="16"/><text>431</text></g>
<g id="n432" transform="translate(854.7)"><circle r="16"/><text>432</text></g>
<g id="n433" transform="translate(929.7)"><circle r="16"/><text>433</text></g>
<g id="n434" transform="translate(1004.8)"><circle r="16"/><text>434</text></g>
<g id="n435" transform="translate(1079.8)"><circle r="16"/><text>435</text></g>
<g id="n436" transform="translate(1154.9)"><circle r="16"/><text>436</text></g>
<g id="n437" class="G" transform="translate(1230)"><circle r="16"/><text>437</text></g>
<g id="n438" class="C" transform="translate(1274.3)"><circle r="16"/><text>438</text></g>
<g id="n439" class="C" transform="translate(1318.3)"><circle r="16"/><text>439</text></g>
</g>
<g transform="translate(0 745.3)">
<g id="n440" transform="translate(66.5)"><circle r="16"/><text>440</text></g>
<g id="n441" transform="translate(141.6)"><circle r="16"/><text>441</text></g>
<g id="n442" transform="translate(216.6)"><circle r="16"/><text>442</text></g>
<g id="n443" transform="translate(291.7)"><circle r="16"/><text>443</text></g>
<g id="n444" transform="translate(366.8)"><circle r="16"/><text>444</text></g>
<g id="n445" transform="translate(441.8)"><circle r="16"/><text>445</text></g>
<g id="n446" transform="translate(516.9)"><circle r="16"/><text>446</text></g>
<g id="n447" transform="translate(592)"><circle r="16"/><text>447</text></g>
<g id="n448" transform="translate(667)"><circle r="16"/><text>448</text></g>
<g id="n449" transform="translate(742.1)"><circle r="16"/><text>449</text></g>
<g id="n450" transform="translate(817.1)"><circle r="16"/><text>450</text></g>
<g id="n451" transform="translate(892.2)"><circle r="16"/><text>451</text></g>
<g id="n452" transform="translate(967.3)"><circle r="16"/><text>452</text></g>
<g id="n453" transform="translate(1042.3)"><circle r="16"/><text>453</text></g>
<g id="n454" transform="translate(1117.4)"><circle r="16"/><text>454</text></g>
<g id="n455" transform="translate(1192.4)"><circle r="16"/><text>455</text></g>
</g>
<g transform="translate(0 722.2)">
<g id="n456" class="G" transform="translate(29)"><circle r="16"/><text>456</text></g>
<g id="n457" transform="translate(104.1)"><circle r="16"/><text>457</text></g>
<g id="n458" transform="translate(179.1)"><circle r="16"/><text>458</text></g>
<g id="n459" transform="translate(254.2)"><circle r="16"/><text>459</text></g>
<g id="n460" transform="translate(329.2)"><circle r="16"/><text>460</text></g>
<g id="n461" transform="translate(404.3)"><circle r="16"/><text>461</text></g>
<g id="n462" transform="translate(479.4)"><circle r="16"/><text>462</text></g>
<g id="n463" transform="translate(554.4)"><circle r="16"/><text>463</text></g>
<g id="n464" transform="translate(629.5)"><circle r="16"/><text>464</text></g>
<g id="n465" transform="translate(704.5)"><circle r="16"/><text>465</text></g>
<g id="n466" transform="translate(779.6)"><circle r="16"/><text>466</text></g>
<g id="n467" transform="translate(854.7)"><circle r="16"/><text>467</text></g>
<g id="n468" transform="translate(929.7)"><circle r="16"/><text>468</text></g>
<g id="n469" transform="translate(1004.8)"><circle r="16"/><text>469</text></g>
<g id="n470" transform="translate(1079.8)"><circle r="16"/><text>470</text></g>
<g id="n471" transform="translate(1154.9)"><circle r="16"/><text>471</text></g>
<g id="n472" class="G" transform="translate(1230)"><circle r="16"/><text>472</text></g>
<g id="n473" class="C" transform="translate(1274.3)"><circle r="16"/><text>473</text></g>
<g id="n474" class="C" transform="translate(1318.3)"><circle r="16"/><text>474</text></g>
</g>
<g transform="translate(0 699.2)">
<g id="n475" transform="translate(66.5)"><circle r="16"/><text>475</text></g>
<g id="n476" transform="translate(141.6)"><circle r="16"/><text>476</text></g>
<g id="n477" transform="translate(216.6)"><circle r="16"/><text>477</text></g>
<g id="n478" transform="translate(291.7)"><circle r="16"/><text>478</text></g>
<g id="n479" transform="translate(366.8)"><circle r="16"/><text>479</text></g>
<g id="n480" transform="translate(441.8)"><circle r="16"/><text>480</text></g>
<g id="n481" transform="translate(516.9)"><circle r="16"/><text>481</text></g>
<g id="n482" transform="translate(592)"><circle r="16"/><text>482</text></g>
<g id="n483" transform="translate(667)"><circle r="16"/><text>483</text></g>
<g id="n484" transform="translate(742.1)"><circle r="16"/><text>484</text></g>
<g id="n485" transform="translate(817.1)"><circle r="16"/><text>485</text></g>
<g id="n486" transform="translate(892.2)"><circle r="16"/><text>486</text></g>
<g id="n487" transform="translate(967.3)"><circle r="16"/><text>487</text></g>
<g id="n488" transform="translate(1042.3)"><circle r="16"/><text>488</text></g>
<g id="n489" transform="translate(1117.4)"><circle r="16"/><text>489</text></g>
<g id="n490" transform="translate(1192.4)"><circle r="16"/><text>490</text></g>
</g>
<g transform="translate(0 676.2)">
<g id="n491" class="G" transform="translate(29)"><circle r="16"/><text>491</text></g>
<g id="n492" transform="translate(104.1)"><circle r="16"/><text>492</text></g>
<g id="n493" transform="translate(179.1)"><circle r="16"/><text>493</text></g>
<g id="n494" transform="translate(254.2)"><circle r="16"/><text>494</text></g>
<g id="n495" transform="translate(329.2)"><circle r="16"/><text>495</text></g>
<g id="n496" transform="translate(404.3)"><circle r="16"/><text>496</text></g>
<g id="n497" transform="translate(479.4)"><circle r="16"/><text>497</text></g>
<g id="n498" transform="translate(554.4)"><circle r="16"/><text>498</text></g>
<g id="n499" transform="translate(629.5)"><circle r="16"/><text>499</text></g>
<g id="n500" transform="translate(704.5)"><circle r="16"/><text>500</text></g>
<g id="n501" transform="translate(779.6)"><circle r="16"/><text>501</text></g>
<g id="n502" transform="translate(854.7)"><circle r="16"/><text>502</text></g>
<g id="n503" transform="translate(929.7)"><circle r="16"/><text>503</text></g>
<g id="n504" transform="translate(1004.8)"><circle r="16"/><text>504</text></g>
<g id="n505" transform="translate(1079.8)"><circle r="16"/><text>505</text></g>
<g id="n506" transform="translate(1154.9)"><circle r="16"/><text>506</text></g>
<g id="n507" class="G" transform="translate(1230)"><circle r="16"/><text>507</text></g>
<g id="n508" class="C" transform="translate(1274.3)"><circle r="16"/><text>508</text></g>
<g id="n509" class="C" transform="translate(1318.3)"><circle r="16"/><text>509</text></g>
</g>
<g transform="translate(0 653.1)">
<g id="n510" transform="translate(66.5)"><circle r="16"/><text>510</text></g>
<g id="n511" transform="translate(141.6)"><circle r="16"/><text>511</text></g>
<g id="n512" transform="translate(216.6)"><circle r="16"/><text>512</text></g>
<g id="n513" transform="translate(291.7)"><circle r="16"/><text>513</text></g>
<g id="n514" transform="translate(366.8)"><circle r="16"/><text>514</text></g>
<g id="n515" transform="translate(441.8)"><circle r="16"/><text>515</text></g>
<g id="n516" transform="translate(516.9)"><circle r="16"/><text>516</text></g>
<g id="n517" transform="translate(592)"><circle r="16"/><text>517</text></g>
<g id="n518" transform="translate(667)"><circle r="16"/><text>518</text></g>
<g id="n519" transform="translate(742.1)"><circle r="16"/><text>519</text></g>
<g id="n520" transform="translate(817.1)"><circle r="16"/><text>520</text></g>
<g id="n521" transform="translate(892.2)"><circle r="16"/><text>521</text></g>
<g id="n522" transform="translate(967.3)"><circle r="16"/><text>522</text></g>
<g id="n523" transform="translate(1042.3)"><circle r="16"/><text>523</text></g>
<g id="n524" transform="translate(1117.4)"><circle r="16"/><text>524</text></g>
<g id="n525" transform="translate(1192.4)"><circle r="16"/><text>525</text></g>
</g>
<g transform="translate(0 630.1)">
<g id="n526" class="G" transform="translate(29)"><circle r="16"/><text>526</text></g>
<g id="n527" transform="translate(104.1)"><circle r="16"/><text>527</text></g>
<g id="n528" transform="translate(179.1)"><circle r="16"/><text>528</text></g>
<g id="n529" transform="translate(254.2)"><circle r="16"/><text>529</text></g>
<g id="n530" transform="translate(329.2)"><circle r="16"/><text>530</text></g>
<g id="n531" transform="translate(404.3)"><circle r="16"/><text>531</text></g>
<g id="n532" transform="translate(479.4)"><circle r="16"/><text>532</text></g>
<g id="n533" transform="translate(554.4)"><circle r="16"/><text>533</text></g>
<g id="n534" transform="translate(629.5)"><circle r="16"/><text>534</text></g>
<g id="n535" transform="translate(704.5)"><circle r="16"/><text>535</text></g>
<g id="n536" transform="translate(779.6)"><circle r="16"/><text>536</text></g>
<g id="n537" transform="translate(854.7)"><circle r="16"/><text>537</text></g>
<g id="n538" transform="translate(929.7)"><circle r="16"/><text>538</text></g>
<g id="n539" transform="translate(1004.8)"><circle r="16"/><text>539</text></g>
<g id="n540" transform="translate(1079.8)"><circle r="16"/><text>540</text></g>
<g id="n541" transform="translate(1154.9)"><circle r="16"/><text>541</text></g>
<g id="n542" class="G" transform="translate(1230)"><circle r="16"/><text>542</text></g>
<g id="n543" class="C" transform="translate(1274.3)"><circle r="16"/><text>543</text></g>
<g id="n544" class="C" transform="translate(1318.3)"><circle r="16"/><text>544</text></g>
</g>
<g transform="translate(0 607.1)">
<g id="n545" transform="translate(66.5)"><circle r="16"/><text>545</text></g>
<g id="n546" transform="translate(141.6)"><circle r="16"/><text>546</text></g>
<g id="n547" transform="translate(216.6)"><circle r="16"/><text>547</text></g>
<g id="n548" transform="translate(291.7)"><circle r="16"/><text>548</text></g>
<g id="n549" transform="translate(366.8)"><circle r="16"/><text>549</text></g>
<g id="n550" transform="translate(441.8)"><circle r="16"/><text>550</text></g>
<g id="n551" transform="translate(516.9)"><circle r="16"/><text>551</text></g>
<g id="n552" transform="translate(592)"><circle r="16"/><text>552</text></g>
<g id="n553" transform="translate(667)"><circle r="16"/><text>553</text></g>
<g id="n554" transform="translate(742.1)"><circle r="16"/><text>554</text></g>
<g id="n555" transform="translate(817.1)"><circle r="16"/><text>555</text></g>
<g id="n556" transform="translate(892.2)"><circle r="16"/><text>556</text></g>
<g id="n557" transform="translate(967.3)"><circle r="16"/><text>557</text></g>
<g id="n558" transform="translate(1042.3)"><circle r="16"/><text>558</text></g>
<g id="n559" transform="translate(1117.4)"><circle r="16"/><text>559</text></g>
<g id="n560" transform="translate(1192.4)"><circle r="16"/><text>560</text></g>
</g>
<g transform="translate(0 584)">
<g id="n561" class="G" transform="translate(29)"><circle r="16"/><text>561</text></g>
<g id="n562" transform="translate(104.1)"><circle r="16"/><text>562</text></g>
<g id="n563" transform="translate(179.1)"><circle r="16"/><text>563</text></g>
<g id="n564" transform="translate(254.2)"><circle r="16"/><text>564</text></g>
<g id="n565" transform="translate(329.2)"><circle r="16"/><text>565</text></g>
<g id="n566" transform="translate(404.3)"><circle r="16"/><text>566</text></g>
<g id="n567" transform="translate(479.4)"><circle r="16"/><text>567</text></g>
<g id="n568" transform="translate(554.4)"><circle r="16"/><text>568</text></g>
<g id="n569" transform="translate(629.5)"><circle r="16"/><text>569</text></g>
<g id="n570" transform="translate(704.5)"><circle r="16"/><text>570</text></g>
<g id="n571" transform="translate(779.6)"><circle r="16"/><text>571</text></g>
<g id="n572" transform="translate(854.7)"><circle r="16"/><text>572</text></g>
<g id="n573" transform="translate(929.7)"><circle r="16"/><text>573</text></g>
<g id="n574" transform="translate(1004.8)"><circle r="16"/><text>574</text></g>
<g id="n575" transform="translate(1079.8)"><circle r="16"/><text>575</text></g>
<g id="n576" transform="translate(1154.9)"><circle r="16"/><text>576</text></g>
<g id="n577" class="G" transform="translate(1230)"><circle r="16"/><text>577</text></g>
<g id="n578" class="C" transform="translate(1274.3)"><circle r="16"/><text>578</text></g>
<g id="n579" class="C" transform="translate(1318.3)"><circle r="16"/><text>579</text></g>
</g>
<g transform="translate(0 561)">
<g id="n580" transform="translate(66.5)"><circle r="16"/><text>580</text></g>
<g id="n581" transform="translate(141.6)"><circle r="16"/><text>581</text></g>
<g id="n582" transform="translate(216.6)"><circle r="16"/><text>582</text></g>
<g id="n583" transform="translate(291.7)"><circle r="16"/><text>583</text></g>
<g id="n584" transform="translate(366.8)"><circle r="16"/><text>584</text></g>
<g id="n585" transform="translate(441.8)"><circle r="16"/><text>585</text></g>
<g id="n586" transform="translate(516.9)"><circle r="16"/><text>586</text></g>
<g id="n587" transform="translate(592)"><circle r="16"/><text>587</text></g>
<g id="n588" transform="translate(667)"><circle r="16"/><text>588</text></g>
<g id="n589" transform="translate(742.1)"><circle r="16"/><text>589</text></g>
<g id="n590" transform="translate(817.1)"><circle r="16"/><text>590</text></g>
<g id="n591" transform="translate(892.2)"><circle r="16"/><text>591</text></g>
<g id="n592" transform="translate(967.3)"><circle r="16"/><text>592</text></g>
<g id="n593" transform="translate(1042.3)"><circle r="16"/><text>593</text></g>
<g id="n594" transform="translate(1117.4)"><circle r="16"/><text>594</text></g>
<g id="n595" transform="translate(1192.4)"><circle r="16"/><text>595</text></g>
</g>
<g transform="translate(0 538)">
<g id="n596" class="G" transform="translate(29)"><circle r="16"/><text>596</text></g>
<g id="n597" transform="translate(104.1)"><circle r="16"/><text>597</text></g>
<g id="n598" transform="translate(179.1)"><circle r="16"/><text>598</text></g>
<g id="n599" transform="translate(254.2)"><circle r="16"/><text>599</text></g>
<g id="n600" transform="translate(329.2)"><circle r="16"/><text>600</text></g>
<g id="n601" transform="translate(404.3)"><circle r="16"/><text>601</text></g>
<g id="n602" transform="translate(479.4)"><circle r="16"/><text>602</text></g>
<g id="n603" transform="translate(554.4)"><circle r="16"/><text>603</text></g>
<g id="n604" transform="translate(629.5)"><circle r="16"/><text>604</text></g>
<g id="n605" transform="translate(704.5)"><circle r="16"/><text>605</text></g>
<g id="n606" transform="translate(779.6)"><circle r="16"/><text>606</text></g>
<g id="n607" transform="translate(854.7)"><circle r="16"/><text>607</text></g>
<g id="n608" transform="translate(929.7)"><circle r="16"/><text>608</text></g>
<g id="n609" transform="translate(1004.8)"><circle r="16"/><text>609</text></g>
<g id="n610" transform="translate(1079.8)"><circle r="16"/><text>610</text></g>
<g id="n611" transform="translate(1154.9)"><circle r="16"/><text>611</text></g>
<g id="n612" class="G" transform="translate(1230)"><circle r="16"/><text>612</text></g>
<g id="n613" class="C" transform="translate(1274.3)"><circle r="16"/><text>613</text></g>
<g id="n614" class="C" transform="translate(1318.3)"><circle r="16"/><text>614</text></g>
</g>
<g transform="translate(0 515)">
<g id="n615" transform="translate(66.5)"><circle r="16"/><text>615</text></g>
<g id="n616" transform="translate(141.6)"><circle r="16"/><text>616</text></g>
<g id="n617" transform="translate(216.6)"><circle r="16"/><text>617</text></g>
<g id="n618" transform="translate(291.7)"><circle r="16"/><text>618</text></g>
<g id="n619" transform="translate(366.8)"><circle r="16"/><text>619</text></g>
<g id="n620" transform="translate(441.8)"><circle r="16"/><text>620</text></g>
<g id="n621" transform="translate(516.9)"><circle r="16"/><text>621</text></g>
<g id="n622" transform="translate(592)"><circle r="16"/><text>622</text></g>
<g id="n623" transform="translate(667)"><circle r="16"/><text>623</text></g>
<g id="n624" transform="translate(742.1)"><circle r="16"/><text>624</text></g>
<g id="n625" transform="translate(817.1)"><circle r="16"/><text>625</text></g>
<g id="n626" transform="translate(892.2)"><circle r="16"/><text>626</text></g>
<g id="n627" transform="translate(967.3)"><circle r="16"/><text>627</text></g>
<g id="n628" transform="translate(1042.3)"><circle r="16"/><text>628</text></g>
<g id="n629" transform="translate(1117.4)"><circle r="16"/><text>629</text></g>
<g id="n630" transform="translate(1192.4)"><circle r="16"/><text>630</text></g>
</g>
<g transform="translate(0 491.9)">
<g id="n631" class="G" transform="translate(29)"><circle r="16"/><text>631</text></g>
<g id="n632" transform="translate(104.1)"><circle r="16"/><text>632</text></g>
<g id="n633" transform="translate(179.1)"><circle r="16"/><text>633</text></g>
<g id="n634" transform="translate(254.2)"><circle r="16"/><text>634</text></g>
<g id="n635" transform="translate(329.2)"><circle r="16"/><text>635</text></g>
<g id="n636" transform="translate(404.3)"><circle r="16"/><text>636</text></g>
<g id="n637" transform="translate(479.4)"><circle r="16"/><text>637</text></g>
<g id="n638" transform="translate(554.4)"><circle r="16"/><text>638</text></g>
<g id="n639" transform="translate(629.5)"><circle r="16"/><text>639</text></g>
<g id="n640" transform="translate(704.5)"><circle r="16"/><text>640</text></g>
<g id="n641" transform="translate(779.6)"><circle r="16"/><text>641</text></g>
<g id="n642" transform="translate(854.7)"><circle r="16"/><text>642</text></g>
<g id="n643" transform="translate(929.7)"><circle r="16"/><text>643</text></g>
<g id="n644" transform="translate(1004.8)"><circle r="16"/><text>644</text></g>
<g id="n645" transform="translate(1079.8)"><circle r="16"/><text>645</text></g>
<g id="n646" transform="translate(1154.9)"><circle r="16"/><text>646</text></g>
<g id="n647" class="G" transform="translate(1230)"><circle r="16"/><text>647</text></g>
<g id="n648" class="C" transform="translate(1274.3)"><circle r="16"/><text>648</text></g>
<g id="n649" class="C" transform="translate(1318.3)"><circle r="16"/><text>649</text></g>
</g>
<g transform="translate(0 468.9)">
<g id="n650" transform="translate(66.5)"><circle r="16"/><text>650</text></g>
<g id="n651" transform="translate(141.6)"><circle r="16"/><text>651</text></g>
<g id="n652" transform="translate(216.6)"><circle r="16"/><text>652</text></g>
<g id="n653" transform="translate(291.7)"><circle r="16"/><text>653</text></g>
<g id="n654" transform="translate(366.8)"><circle r="16"/><text>654</text></g>
<g id="n655" transform="translate(441.8)"><circle r="16"/><text>655</text></g>
<g id="n656" transform="translate(516.9)"><circle r="16"/><text>656</text></g>
<g id="n657" transform="translate(592)"><circle r="16"/><text>657</text></g>
<g id="n658" transform="translate(667)"><circle r="16"/><text>658</text></g>
<g id="n659" transform="translate(742.1)"><circle r="16"/><text>659</text></g>
<g id="n660" transform="translate(817.1)"><circle r="16"/><text>660</text></g>
<g id="n661" transform="translate(892.2)"><circle r="16"/><text>661</text></g>
<g id="n662" transform="translate(967.3)"><circle r="16"/><text>662</text></g>
<g id="n663" transform="translate(1042.3)"><circle r="16"/><text>663</text></g>
<g id="n664" transform="translate(1117.4)"><circle r="16"/><text>664</text></g>
<g id="n665" transform="translate(1192.4)"><circle r="16"/><text>665</text></g>
</g>
<g transform="translate(0 445.9)">
<g id="n666" class="G" transform="translate(29)"><circle r="16"/><text>666</text></g>
<g id="n667" transform="translate(104.1)"><circle r="16"/><text>667</text></g>
<g id="n668" transform="translate(179.1)"><circle r="16"/><text>668</text></g>
<g id="n669" transform="translate(254.2)"><circle r="16"/><text>669</text></g>
<g id="n670" transform="translate(329.2)"><circle r="16"/><text>670</text></g>
<g id="n671" transform="translate(404.3)"><circle r="16"/><text>671</text></g>
<g id="n672" transform="translate(479.4)"><circle r="16"/><text>672</text></g>
<g id="n673" transform="translate(554.4)"><circle r="16"/><text>673</text></g>
<g id="n674" transform="translate(629.5)"><circle r="16"/><text>674</text></g>
<g id="n675" transform="translate(704.5)"><circle r="16"/><text>675</text></g>
<g id="n676" transform="translate(779.6)"><circle r="16"/><text>676</text></g>
<g id="n677" transform="translate(854.7)"><circle r="16"/><text>677</text></g>
<g id="n678" transform="translate(929.7)"><circle r="16"/><text>678</text></g>
<g id="n679" transform="translate(1004.8)"><circle r="16"/><text>679</text></g>
<g id="n680" transform="translate(1079.8)"><circle r="16"/><text>680</text></g>
<g id="n681" transform="translate(1154.9)"><circle r="16"/><text>681</text></g>
<g id="n682" class="G" transform="translate(1230)"><circle r="16"/><text>682</text></g>
<g id="n683" class="C" transform="translate(1274.3)"><circle r="16"/><text>683</text></g>
<g id="n684" class="C" transform="translate(1318.3)"><circle r="16"/><text>684</text></g>
</g>
<g transform="translate(0 422.8)">
<g id="n685" transform="translate(66.5)"><circle r="16"/><text>685</text></g>
<g id="n686" transform="translate(141.6)"><circle r="16"/><text>686</text></g>
<g id="n687" transform="translate(216.6)"><circle r="16"/><text>687</text></g>
<g id="n688" transform="translate(291.7)"><circle r="16"/><text>688</text></g>
<g id="n689" transform="translate(366.8)"><circle r="16"/><text>689</text></g>
<g id="n690" transform="translate(441.8)"><circle r="16"/><text>690</text></g>
<g id="n691" transform="translate(516.9)"><circle r="16"/><text>691</text></g>
<g id="n692" transform="translate(592)"><circle r="16"/><text>692</text></g>
<g id="n693" transform="translate(667)"><circle r="16"/><text>693</text></g>
<g id="n694" transform="translate(742.1)"><circle r="16"/><text>694</text></g>
<g id="n695" transform="translate(817.1)"><circle r="16"/><text>695</text></g>
<g id="n696" transform="translate(892.2)"><circle r="16"/><text>696</text></g>
<g id="n697" transform="translate(967.3)"><circle r="16"/><text>697</text></g>
<g id="n698" transform="translate(1042.3)"><circle r="16"/><text>698</text></g>
<g id="n699" transform="translate(1117.4)"><circle r="16"/><text>699</text></g>
<g id="n700" transform="translate(1192.4)"><circle r="16"/><text>700</text></g>
</g>
<g transform="translate(0 399.8)">
<g id="n701" class="G" transform="translate(29)"><circle r="16"/><text>701</text></g>
<g id="n702" transform="translate(104.1)"><circle r="16"/><text>702</text></g>
<g id="n703" transform="translate(179.1)"><circle r="16"/><text>703</text></g>
<g id="n704" transform="translate(254.2)"><circle r="16"/><text>704</text></g>
<g id="n705" transform="translate(329.2)"><circle r="16"/><text>705</text></g>
<g id="n706" transform="translate(404.3)"><circle r="16"/><text>706</text></g>
<g id="n707" transform="translate(479.4)"><circle r="16"/><text>707</text></g>
<g id="n708" transform="translate(554.4)"><circle r="16"/><text>708</text></g>
<g id="n709" transform="translate(629.5)"><circle r="16"/><text>709</text></g>
<g id="n710" transform="translate(704.5)"><circle r="16"/><text>710</text></g>
<g id="n711" transform="translate(779.6)"><circle r="16"/><text>711</text></g>
<g id="n712" transform="translate(854.7)"><circle r="16"/><text>712</text></g>
<g id="n713" transform="translate(929.7)"><circle r="16"/><text>713</text></g>
<g id="n714" transform="translate(1004.8)"><circle r="16"/><text>714</text></g>
<g id="n715" transform="translate(1079.8)"><circle r="16"/><text>715</text></g>
<g id="n716" transform="translate(1154.9)"><circle r="16"/><text>716</text></g>
<g id="n717" class="G" transform="translate(1230)"><circle r="16"/><text>717</text></g>
<g id="n718" class="C" transform="translate(1274.3)"><circle r="16"/><text>718</text></g>
<g id="n719" class="C" transform="translate(1318.3)"><circle r="16"/><text>719</text></g>
</g>
<g transform="translate(0 376.8)">
<g id="n720" transform="translate(66.5)"><circle r="16"/><text>720</text></g>
<g id="n721" transform="translate(141.6)"><circle r="16"/><text>721</text></g>
<g id="n722" transform="translate(216.6)"><circle r="16"/><text>722</text></g>
<g id="n723" transform="translate(291.7)"><circle r="16"/><text>723</text></g>
<g id="n724" transform="translate(366.8)"><circle r="16"/><text>724</text></g>
<g id="n725" transform="translate(441.8)"><circle r="16"/><text>725</text></g>
<g id="n726" transform="translate(516.9)"><circle r="16"/><text>726</text></g>
<g id="n727" transform="translate(592)"><circle r="16"/><text>727</text></g>
<g id="n728" transform="translate(667)"><circle r="16"/><text>728</text></g>
<g id="n729" transform="translate(742.1)"><circle r="16"/><text>729</text></g>
<g id="n730" transform="translate(817.1)"><circle r="16"/><text>730</text></g>
<g id="n731" transform="translate(892.2)"><circle r="16"/><text>731</text></g>
<g id="n732" transform="translate(967.3)"><circle r="16"/><text>732</text></g>
<g id="n733" transform="translate(1042.3)"><circle r="16"/><text>733</text></g>
<g id="n734" transform="translate(1117.4)"><circle r="16"/><text>734</text></g>
<g id="n735" transform="translate(1192.4)"><circle r="16"/><text>735</text></g>
</g>
<g transform="translate(0 353.7)">
<g id="n736" class="G" transform="translate(29)"><circle r="16"/><text>736</text></g>
<g id="n737" transform="translate(104.1)"><circle r="16"/><text>737</text></g>
<g id="n738" transform="translate(179.1)"><circle r="16"/><text>738</text></g>
<g id="n739" transform="translate(254.2)"><circle r="16"/><text>739</text></g>
<g id="n740" transform="translate(329.2)"><circle r="16"/><text>740</text></g>
<g id="n741" transform="translate(404.3)"><circle r="16"/><text>741</text></g>
<g id="n742" transform="translate(479.4)"><circle r="16"/><text>742</text></g>
<g id="n743" transform="translate(554.4)"><circle r="16"/><text>743</text></g>
<g id="n744" transform="translate(629.5)"><circle r="16"/><text>744</text></g>
<g id="n745" transform="translate(704.5)"><circle r="16"/><text>745</text></g>
<g id="n746" transform="translate(779.6)"><circle r="16"/><text>746</text></g>
<g id="n747" transform="translate(854.7)"><circle r="16"/><text>747</text></g>
<g id="n748" transform="translate(929.7)"><circle r="16"/><text>748</text></g>
<g id="n749" transform="translate(1004.8)"><circle r="16"/><text>749</text></g>
<g id="n750" transform="translate(1079.8)"><circle r="16"/><text>750</text></g>
<g id="n751" transform="translate(1154.9)"><circle r="16"/><text>751</text></g>
<g id="n752" class="G" transform="translate(1230)"><circle r="16"/><text>752</text></g>
<g id="n753" class="C" transform="translate(1274.3)"><circle r="16"/><text>753</text></g>
<g id="n754" class="C" transform="translate(1318.3)"><circle r="16"/><text>754</text></g>
</g>
<g transform="translate(0 330.7)">
<g id="n755" transform="translate(66.5)"><circle r="16"/><text>755</text></g>
<g id="n756" transform="translate(141.6)"><circle r="16"/><text>756</text></g>
<g id="n757" transform="translate(216.6)"><circle r="16"/><text>757</text></g>
<g id="n758" transform="translate(291.7)"><circle r="16"/><text>758</text></g>
<g id="n759" transform="translate(366.8)"><circle r="16"/><text>759</text></g>
<g id="n760" transform="translate(441.8)"><circle r="16"/><text>760</text></g>
<g id="n761" transform="translate(516.9)"><circle r="16"/><text>761</text></g>
<g id="n762" transform="translate(592)"><circle r="16"/><text>762</text></g>
<g id="n763" transform="translate(667)"><circle r="16"/><text>763</text></g>
<g id="n764" transform="translate(742.1)"><circle r="16"/><text>764</text></g>
<g id="n765" transform="translate(817.1)"><circle r="16"/><text>765</text></g>
<g id="n766" transform="translate(892.2)"><circle r="16"/><text>766</text></g>
<g id="n767" transform="translate(967.3)"><circle r="16"/><text>767</text></g>
<g id="n768" transform="translate(1042.3)"><circle r="16"/><text>768</text></g>
<g id="n769" transform="translate(1117.4)"><circle r="16"/><text>769</text></g>
<g id="n770" transform="translate(1192.4)"><circle r="16"/><text>770</text></g>
</g>
<g transform="translate(0 307.7)">
<g id="n771" class="G" transform="translate(29)"><circle r="16"/><text>771</text></g>
<g id="n772" transform="translate(104.1)"><circle r="16"/><text>772</text></g>
<g id="n773" transform="translate(179.1)"><circle r="16"/><text>773</text></g>
<g id="n774" transform="translate(254.2)"><circle r="16"/><text>774</text></g>
<g id="n775" transform="translate(329.2)"><circle r="16"/><text>775</text></g>
<g id="n776" transform="translate(404.3)"><circle r="16"/><text>776</text></g>
<g id="n777" transform="translate(479.4)"><circle r="16"/><text>777</text></g>
<g id="n778" transform="translate(554.4)"><circle r="16"/><text>778</text></g>
<g id="n779" transform="translate(629.5)"><circle r="16"/><text>779</text></g>
<g id="n780" transform="translate(704.5)"><circle r="16"/><text>780</text></g>
<g id="n781" transform="translate(779.6)"><circle r="16"/><text>781</text></g>
<g id="n782" transform="translate(854.7)"><circle r="16"/><text>782</text></g>
<g id="n783" transform="translate(929.7)"><circle r="16"/><text>783</text></g>
<g id="n784" transform="translate(1004.8)"><circle r="16"/><text>784</text></g>
<g id="n785" transform="translate(1079.8)"><circle r="16"/><text>785</text></g>
<g id="n786" transform="translate(1154.9)"><circle r="16"/><text>786</text></g>
<g id="n787" class="G" transform="translate(1230)"><circle r="16"/><text>787</text></g>
<g id="n788" class="C" transform="translate(1274.3)"><circle r="16"/><text>788</text></g>
<g id="n789" class="C" transform="translate(1318.3)"><circle r="16"/><text>789</text></g>
</g>
<g transform="translate(0 284.7)">
<g id="n790" transform="translate(66.5)"><circle r="16"/><text>790</text></g>
<g id="n791" transform="translate(141.6)"><circle r="16"/><text>791</text></g>
<g id="n792" transform="translate(216.6)"><circle r="16"/><text>792</text></g>
<g id="n793" transform="translate(291.7)"><circle r="16"/><text>793</text></g>
<g id="n794" transform="translate(366.8)"><circle r="16"/><text>794</text></g>
<g id="n795" transform="translate(441.8)"><circle r="16"/><text>795</text></g>
<g id="n796" transform="translate(516.9)"><circle r="16"/><text>796</text></g>
<g id="n797" transform="translate(592)"><circle r="16"/><text>797</text></g>
<g id="n798" transform="translate(667)"><circle r="16"/><text>798</text></g>
<g id="n799" transform="translate(742.1)"><circle r="16"/><text>799</text></g>
<g id="n800" transform="translate(817.1)"><circle r="16"/><text>800</text></g>
<g id="n801" transform="translate(892.2)"><circle r="16"/><text>801</text></g>
<g id="n802" transform="translate(967.3)"><circle r="16"/><text>802</text></g>
<g id="n803" transform="translate(1042.3)"><circle r="16"/><text>803</text></g>
<g id="n804" transform="translate(1117.4)"><circle r="16"/><text>804</text></g>
<g id="n805" transform="translate(1192.4)"><circle r="16"/><text>805</text></g>
</g>
<g transform="translate(0 261.6)">
<g id="n806" class="G" transform="translate(29)"><circle r="16"/><text>806</text></g>
<g id="n807" transform="translate(104.1)"><circle r="16"/><text>807</text></g>
<g id="n808" transform="translate(179.1)"><circle r="16"/><text>808</text></g>
<g id="n809" transform="translate(254.2)"><circle r="16"/><text>809</text></g>
<g id="n810" transform="translate(329.2)"><circle r="16"/><text>810</text></g>
<g id="n811" transform="translate(404.3)"><circle r="16"/><text>811</text></g>
<g id="n812" transform="translate(479.4)"><circle r="16"/><text>812</text></g>
<g id="n813" transform="translate(554.4)"><circle r="16"/><text>813</text></g>
<g id="n814" transform="translate(629.5)"><circle r="16"/><text>814</text></g>
<g id="n815" transform="translate(704.5)"><circle r="16"/><text>815</text></g>
<g id="n816" transform="translate(779.6)"><circle r="16"/><text>816</text></g>
<g id="n817" transform="translate(854.7)"><circle r="16"/><text>817</text></g>
<g id="n818" transform="translate(929.7)"><circle r="16"/><text>818</text></g>
<g id="n819" transform="translate(1004.8)"><circle r="16"/><text>819</text></g>
<g id="n820" transform="translate(1079.8)"><circle r="16"/><text>820</text></g>
<g id="n821" transform="translate(1154.9)"><circle r="16"/><text>821</text></g>
<g id="n822" class="G" transform="translate(1230)"><circle r="16"/><text>822</text></g>
<g id="n823" class="C" transform="translate(1274.3)"><circle r="16"/><text>823</text></g>
<g id="n824" class="C" transform="translate(1318.3)"><circle r="16"/><text>824</text></g>
</g>
<g transform="translate(0 238.6)">
<g id="n825" transform="translate(66.5)"><circle r="16"/><text>825</text></g>
<g id="n826" transform="translate(141.6)"><circle r="16"/><text>826</text></g>
<g id="n827" transform="translate(216.6)"><circle r="16"/><text>827</text></g>
<g id="n828" transform="translate(291.7)"><circle r="16"/><text>828</text></g>
<g id="n829" transform="translate(366.8)"><circle r="16"/><text>829</text></g>
<g id="n830" transform="translate(441.8)"><circle r="16"/><text>830</text></g>
<g id="n831" transform="translate(516.9)"><circle r="16"/><text>831</text></g>
<g id="n832" transform="translate(592)"><circle r="16"/><text>832</text></g>
<g id="n833" transform="translate(667)"><circle r="16"/><text>833</text></g>
<g id="n834" transform="translate(742.1)"><circle r="16"/><text>834</text></g>
<g id="n835" transform="translate(817.1)"><circle r="16"/><text>835</text></g>
<g id="n836" transform="translate(892.2)"><circle r="16"/><text>836</text></g>
<g id="n837" transform="translate(967.3)"><circle r="16"/><text>837</text></g>
<g id="n838" transform="translate(1042.3)"><circle r="16"/><text>838</text></g>
<g id="n839" transform="translate(1117.4)"><circle r="16"/><text>839</text></g>
<g id="n840" transform="translate(1192.4)"><circle r="16"/><text>840</text></g>
</g>
<g transform="translate(0 215.6)">
<g id="n841" class="G" transform="translate(29)"><circle r="16"/><text>841</text></g>
<g id="n842" transform="translate(104.1)"><circle r="16"/><text>842</text></g>
<g id="n843" transform="translate(179.1)"><circle r="16"/><text>843</text></g>
<g id="n844" transform="translate(254.2)"><circle r="16"/><text>844</text></g>
<g id="n845" transform="translate(329.2)"><circle r="16"/><text>845</text></g>
<g id="n846" transform="translate(404.3)"><circle r="16"/><text>846</text></g>
<g id="n847" transform="translate(479.4)"><circle r="16"/><text>847</text></g>
<g id="n848" transform="translate(554.4)"><circle r="16"/><text>848</text></g>
<g id="n849" transform="translate(629.5)"><circle r="16"/><text>849</text></g>
<g id="n850" transform="translate(704.5)"><circle r="16"/><text>850</text></g>
<g id="n851" transform="translate(779.6)"><circle r="16"/><text>851</text></g>
<g id="n852" transform="translate(854.7)"><circle r="16"/><text>852</text></g>
<g id="n853" transform="translate(929.7)"><circle r="16"/><text>853</text></g>
<g id="n854" transform="translate(1004.8)"><circle r="16"/><text>854</text></g>
<g id="n855" transform="translate(1079.8)"><circle r="16"/><text>855</text></g>
<g id="n856" transform="translate(1154.9)"><circle r="16"/><text>856</text></g>
<g id="n857" class="G" transform="translate(1230)"><circle r="16"/><text>857</text></g>
<g id="n858" class="C" transform="translate(1274.3)"><circle r="16"/><text>858</text></g>
<g id="n859" class="C" transform="translate(1318.3)"><circle r="16"/><text>859</text></g>
</g>
<g transform="translate(0 192.5)">
<g id="n860" transform="translate(66.5)"><circle r="16"/><text>860</text></g>
<g id="n861" transform="translate(141.6)"><circle r="16"/><text>861</text></g>
<g id="n862" transform="translate(216.6)"><circle r="16"/><text>862</text></g>
<g id="n863" transform="translate(291.7)"><circle r="16"/><text>863</text></g>
<g id="n864" transform="translate(366.8)"><circle r="16"/><text>864</text></g>
<g id="n865" transform="translate(441.8)"><circle r="16"/><text>865</text></g>
<g id="n866" transform="translate(516.9)"><circle r="16"/><text>866</text></g>
<g id="n867" transform="translate(592)"><circle r="16"/><text>867</text></g>
<g id="n868" transform="translate(667)"><circle r="16"/><text>868</text></g>
<g id="n869" transform="translate(742.1)"><circle r="16"/><text>869</text></g>
<g id="n870" transform="translate(817.1)"><circle r="16"/><text>870</text></g>
<g id="n871" transform="translate(892.2)"><circle r="16"/><text>871</text></g>
<g id="n872" transform="translate(967.3)"><circle r="16"/><text>872</text></g>
<g id="n873" transform="translate(1042.3)"><circle r="16"/><text>873</text></g>
<g id="n874" transform="translate(1117.4)"><circle r="16"/><text>874</text></g>
<g id="n875" transform="translate(1192.4)"><circle r="16"/><text>875</text></g>
</g>
<g transform="translate(0 169.5)">
<g id="n876" class="G" transform="translate(29)"><circle r="16"/><text>876</text></g>
<g id="n877" transform="translate(104.1)"><circle r="16"/><text>877</text></g>
<g id="n878" transform="translate(179.1)"><circle r="16"/><text>878</text></g>
<g id="n879" transform="translate(254.2)"><circle r="16"/><text>879</text></g>
<g id="n880" transform="translate(329.2)"><circle r="16"/><text>880</text></g>
<g id="n881" transform="translate(404.3)"><circle r="16"/><text>881</text></g>
<g id="n882" transform="translate(479.4)"><circle r="16"/><text>882</text></g>
<g id="n883" transform="translate(554.4)"><circle r="16"/><text>883</text></g>
<g id="n884" transform="translate(629.5)"><circle r="16"/><text>884</text></g>
<g id="n885" transform="translate(704.5)"><circle r="16"/><text>885</text></g>
<g id="n886" transform="translate(779.6)"><circle r="16"/><text>886</text></g>
<g id="n887" transform="translate(854.7)"><circle r="16"/><text>887</text></g>
<g id="n888" transform="translate(929.7)"><circle r="16"/><text>888</text></g>
<g id="n889" transform="translate(1004.8)"><circle r="16"/><text>889</text></g>
<g id="n890" transform="translate(1079.8)"><circle r="16"/><text>890</text></g>
<g id="n891" transform="translate(1154.9)"><circle r="16"/><text>891</text></g>
<g id="n892" class="G" transform="translate(1230)"><circle r="16"/><text>892</text></g>
<g id="n893" class="C" transform="translate(1274.3)"><circle r="16"/><text>893</text></g>
<g id="n894" class="C" transform="translate(1318.3)"><circle r="16"/><text>894</text></g>
</g>
<g transform="translate(0 146.5)">
<g id="n895" transform="translate(66.5)"><circle r="16"/><text>895</text></g>
<g id="n896" transform="translate(141.6)"><circle r="16"/><text>896</text></g>
<g id="n897" transform="translate(216.6)"><circle r="16"/><text>897</text></g>
<g id="n898" transform="translate(291.7)"><circle r="16"/><text>898</text></g>
<g id="n899" transform="translate(366.8)"><circle r="16"/><text>899</text></g>
<g id="n900" transform="translate(441.8)"><circle r="16"/><text>900</text></g>
<g id="n901" transform="translate(516.9)"><circle r="16"/><text>901</text></g>
<g id="n902" transform="translate(592)"><circle r="16"/><text>902</text></g>
<g id="n903" transform="translate(667)"><circle r="16"/><text>903</text></g>
<g id="n904" transform="translate(742.1)"><circle r="16"/><text>904</text></g>
<g id="n905" transform="translate(817.1)"><circle r="16"/><text>905</text></g>
<g id="n906" transform="translate(892.2)"><circle r="16"/><text>906</text></g>
<g id="n907" transform="translate(967.3)"><circle r="16"/><text>907</text></g>
<g id="n908" transform="translate(1042.3)"><circle r="16"/><text>908</text></g>
<g id="n909" transform="translate(1117.4)"><circle r="16"/><text>909</text></g>
<g id="n910" transform="translate(1192.4)"><circle r="16"/><text>910</text></g>
</g>
<g transform="translate(0 123.4)">
<g id="n911" class="G" transform="translate(29)"><circle r="16"/><text>911</text></g>
<g id="n912" transform="translate(104.1)"><circle r="16"/><text>912</text></g>
<g id="n913" transform="translate(179.1)"><circle r="16"/><text>913</text></g>
<g id="n914" transform="translate(254.2)"><circle r="16"/><text>914</text></g>
<g id="n915" transform="translate(329.2)"><circle r="16"/><text>915</text></g>
<g id="n916" transform="translate(404.3)"><circle r="16"/><text>916</text></g>
<g id="n917" transform="translate(479.4)"><circle r="16"/><text>917</text></g>
<g id="n918" transform="translate(554.4)"><circle r="16"/><text>918</text></g>
<g id="n919" transform="translate(629.5)"><circle r="16"/><text>919</text></g>
<g id="n920" transform="translate(704.5)"><circle r="16"/><text>920</text></g>
<g id="n921" transform="translate(779.6)"><circle r="16"/><text>921</text></g>
<g id="n922" transform="translate(854.7)"><circle r="16"/><text>922</text></g>
<g id="n923" transform="translate(929.7)"><circle r="16"/><text>923</text></g>
<g id="n924" transform="translate(1004.8)"><circle r="16"/><text>924</text></g>
<g id="n925" transform="translate(1079.8)"><circle r="16"/><text>925</text></g>
<g id="n926" transform="translate(1154.9)"><circle r="16"/><text>926</text></g>
<g id="n927" class="G" transform="translate(1230)"><circle r="16"/><text>927</text></g>
<g id="n928" class="C" transform="translate(1274.3)"><circle r="16"/><text>928</text></g>
<g id="n929" class="C" transform="translate(1318.3)"><circle r="16"/><text>929</text></g>
</g>
<g transform="translate(0 100.4)">
<g id="n930" transform="translate(66.5)"><circle r="16"/><text>930</text></g>
<g id="n931" transform="translate(141.6)"><circle r="16"/><text>931</text></g>
<g id="n932" transform="translate(216.6)"><circle r="16"/><text>932</text></g>
<g id="n933" transform="translate(291.7)"><circle r="16"/><text>933</text></g>
<g id="n934" transform="translate(366.8)"><circle r="16"/><text>934</text></g>
<g id="n935" transform="translate(441.8)"><circle r="16"/><text>935</text></g>
<g id="n936" transform="translate(516.9)"><circle r="16"/><text>936</text></g>
<g id="n937" transform="translate(592)"><circle r="16"/><text>937</text></g>
<g id="n938" transform="translate(667)"><circle r="16"/><text>938</text></g>
<g id="n939" transform="translate(742.1)"><circle r="16"/><text>939</text></g>
<g id="n940" transform="translate(817.1)"><circle r="16"/><text>940</text></g>
<g id="n941" transform="translate(892.2)"><circle r="16"/><text>941</text></g>
<g id="n942" transform="translate(967.3)"><circle r="16"/><text>942</text></g>
<g id="n943" transform="translate(1042.3)"><circle r="16"/><text>943</text></g>
<g id="n944" transform="translate(1117.4)"><circle r="16"/><text>944</text></g>
<g id="n945" transform="translate(1192.4)"><circle r="16"/><text>945</text></g>
</g>
<g transform="translate(0 77.4)">
<g id="n946" class="G" transform="translate(29)"><circle r="16"/><text>946</text></g>
<g id="n947" transform="translate(104.1)"><circle r="16"/><text>947</text></g>
<g id="n948" transform="translate(179.1)"><circle r="16"/><text>948</text></g>
<g id="n949" transform="translate(254.2)"><circle r="16"/><text>949</text></g>
<g id="n950" transform="translate(329.2)"><circle r="16"/><text>950</text></g>
<g id="n951" transform="translate(404.3)"><circle r="16"/><text>951</text></g>
<g id="n952" transform="translate(479.4)"><circle r="16"/><text>952</text></g>
<g id="n953" transform="translate(554.4)"><circle r="16"/><text>953</text></g>
<g id="n954" transform="translate(629.5)"><circle r="16"/><text>954</text></g>
<g id="n955" transform="translate(704.5)"><circle r="16"/><text>955</text></g>
<g id="n956" transform="translate(779.6)"><circle r="16"/><text>956</text></g>
<g id="n957" transform="translate(854.7)"><circle r="16"/><text>957</text></g>
<g id="n958" transform="translate(929.7)"><circle r="16"/><text>958</text></g>
<g id="n959" transform="translate(1004.8)"><circle r="16"/><text>959</text></g>
<g id="n960" transform="translate(1079.8)"><circle r="16"/><text>960</text></g>
<g id="n961" transform="translate(1154.9)"><circle r="16"/><text>961</text></g>
<g id="n962" class="G" transform="translate(1230)"><circle r="16"/><text>962</text></g>
<g id="n963" class="C" transform="translate(1274.3)"><circle r="16"/><text>963</text></g>
<g id="n964" class="C" transform="translate(1318.3)"><circle r="16"/><text>964</text></g>
</g>
<g transform="translate(0 54.4)">
<g id="n965" transform="translate(66.5)"><circle r="16"/><text>965</text></g>
<g id="n966" transform="translate(141.6)"><circle r="16"/><text>966</text></g>
<g id="n967" transform="translate(216.6)"><circle r="16"/><text>967</text></g>
<g id="n968" transform="translate(291.7)"><circle r="16"/><text>968</text></g>
<g id="n969" transform="translate(366.8)"><circle r="16"/><text>969</text></g>
<g id="n970" transform="translate(441.8)"><circle r="16"/><text>970</text></g>
<g id="n971" transform="translate(516.9)"><circle r="16"/><text>971</text></g>
<g id="n972" transform="translate(592)"><circle r="16"/><text>972</text></g>
<g id="n973" transform="translate(667)"><circle r="16"/><text>973</text></g>
<g id="n974" transform="translate(742.1)"><circle r="16"/><text>974</text></g>
<g id="n975" transform="translate(817.1)"><circle r="16"/><text>975</text></g>
<g id="n976" transform="translate(892.2)"><circle r="16"/><text>976</text></g>
<g id="n977" transform="translate(967.3)"><circle r="16"/><text>977</text></g>
<g id="n978" transform="translate(1042.3)"><circle r="16"/><text>978</text></g>
<g id="n979" transform="translate(1117.4)"><circle r="16"/><text>979</text></g>
<g id="n980" transform="translate(1192.4)"><circle r="16"/><text>980</text></g>
</g>
<g transform="translate(0 31.3)">
<g id="n981" class="G" transform="translate(29)"><circle r="16"/><text>981</text></g>
<g id="n982" class="G" transform="translate(104.1)"><circle r="16"/><text>982</text></g>
<g id="n983" class="G" transform="translate(179.1)"><circle r="16"/><text>983</text></g>
<g id="n984" class="G" transform="translate(254.2)"><circle r="16"/><text>984</text></g>
<g id="n985" class="G" transform="translate(329.2)"><circle r="16"/><text>985</text></g>
<g id="n986" class="G" transform="translate(404.3)"><circle r="16"/><text>986</text></g>
<g id="n987" class="G" transform="translate(479.4)"><circle r="16"/><text>987</text></g>
<g id="n988" class="G" transform="translate(554.4)"><circle r="16"/><text>988</text></g>
<g id="n989" class="G" transform="translate(629.5)"><circle r="16"/><text>989</text></g>
<g id="n990" class="G" transform="translate(704.5)"><circle r="16"/><text>990</text></g>
<g id="n991" class="G" transform="translate(779.6)"><circle r="16"/><text>991</text></g>
<g id="n992" class="G" transform="translate(854.7)"><circle r="16"/><text>992</text></g>
<g id="n993" class="G" transform="translate(929.7)"><circle r="16"/><text>993</text></g>
<g id="n994" class="G" transform="translate(1004.8)"><circle r="16"/><text>994</text></g>
<g id="n995" class="G" transform="translate(1079.8)"><circle r="16"/><text>995</text></g>
<g id="n996" class="G" transform="translate(1154.9)"><circle r="16"/><text>996</text></g>
<g id="n997" class="G" transform="translate(1230)"><circle r="16"/><text>997</text></g>
<g id="n998" class="G" transform="translate(1274.3)"><circle r="16"/><text>998</text></g>
<g id="n999" class="G" transform="translate(1318.3)"><circle r="16"/><text>999</text></g>
</g>
</g>
</svg>
